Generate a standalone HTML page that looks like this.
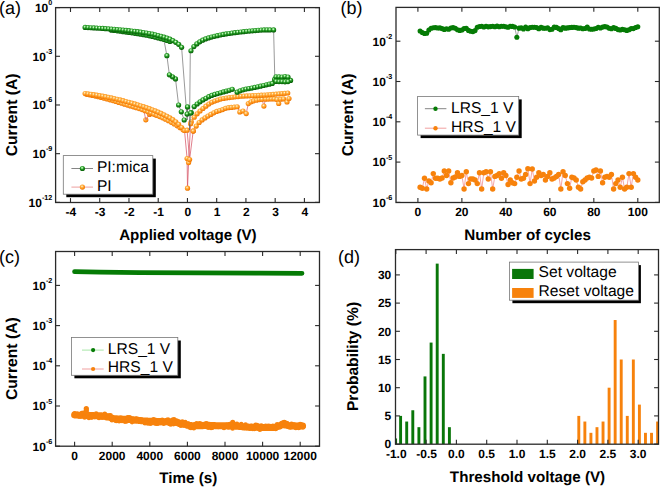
<!DOCTYPE html><html><head><meta charset="utf-8"><style>html,body{margin:0;padding:0;background:#fff;overflow:hidden}svg{display:block;text-rendering:geometricPrecision}</style></head><body>
<svg width="660" height="487" viewBox="0 0 660 487" font-family="'Liberation Sans', sans-serif" fill="#000">
<defs>
<radialGradient id="gG" cx="0.44" cy="0.36" r="0.64"><stop offset="0" stop-color="#eaffe6"/><stop offset="0.22" stop-color="#8ee08a"/><stop offset="0.45" stop-color="#2a9e2a"/><stop offset="0.8" stop-color="#0b720b"/><stop offset="1" stop-color="#065806"/></radialGradient>
<radialGradient id="gO" cx="0.42" cy="0.36" r="0.66"><stop offset="0" stop-color="#fff6d8"/><stop offset="0.35" stop-color="#ffb448"/><stop offset="0.72" stop-color="#fd8a10"/><stop offset="1" stop-color="#e57000"/></radialGradient>
</defs>
<rect width="660" height="487" fill="#fff"/>
<clipPath id="ca"><rect x="55.6" y="7.6" width="263.79999999999995" height="194.9"/></clipPath>
<g clip-path="url(#ca)">
<polyline points="85.11,93.48 88.03,93.86 90.96,94.27 93.88,94.71 96.81,95.17 99.73,95.65 102.65,96.17 105.58,96.72 108.50,97.29 111.43,97.90 114.35,98.55 117.27,99.24 120.20,99.96 123.12,100.71 126.05,101.48 128.97,102.27 131.89,103.10 134.82,103.96 137.74,104.84 140.67,105.75 143.59,106.69 146.51,107.67 149.44,108.69 152.36,109.77 155.29,110.91 158.21,112.13 161.13,113.43 164.06,114.83 166.98,116.32 169.91,117.91 172.83,119.69 175.75,121.78 178.68,124.40 181.60,127.48 184.50,130.50 187.10,158.50 187.50,188.20 188.60,162.60 190.60,123.70 191.25,121.84 194.18,117.26 197.10,113.79 200.02,111.02 202.95,108.50 205.87,106.22 208.80,104.01 211.72,102.25 214.64,101.05 217.57,100.03 220.49,99.12 223.42,98.48 226.34,98.00 229.26,97.59 232.19,97.23 235.11,96.87 238.04,96.54 240.96,96.25 243.88,96.05 246.81,95.90 249.73,95.78 252.66,95.65 255.58,95.49 258.50,95.33 261.43,95.16 264.35,94.98 267.28,94.79 270.20,94.59 273.12,94.36 276.05,94.12 278.97,93.87 281.90,93.59 284.82,93.31 287.74,93.01" fill="none" stroke="#d65466" stroke-width="0.75"/>
<polyline points="86.57,94.29 89.50,94.83 92.42,95.41 95.34,96.03 98.27,96.69 101.19,97.41 104.12,98.18 107.04,98.98 109.96,99.79 112.89,100.62 115.81,101.49 118.74,102.38 121.66,103.27 124.58,104.17 127.51,105.06 130.43,105.93 133.36,106.81 136.28,107.70 139.20,108.62 142.13,109.59 145.05,110.63 147.98,111.74 150.90,112.91 153.82,114.11 156.75,115.33 159.67,116.57 162.60,117.87 165.52,119.25 168.44,120.73 171.37,122.30 174.29,123.98 177.22,125.78 180.14,127.74 183.06,129.83 187.10,130.20 189.60,159.50 193.20,131.10" fill="none" stroke="#d65466" stroke-width="0.75"/>
<polyline points="193.30,130.92 196.22,126.04 199.15,122.50 202.07,119.90 204.99,117.88 207.92,116.05 210.84,114.40 213.77,112.79 216.69,111.43 219.61,110.55 222.54,109.62 225.46,108.28 228.39,107.64 231.31,107.40 234.23,107.10 237.16,106.77 239.80,112.00 243.00,111.00 246.20,113.60 248.30,103.60 251.00,101.80 253.60,100.90 256.50,100.20 259.40,99.60 262.00,99.30 263.90,106.10 265.50,99.20 268.40,99.10 271.30,99.00 274.20,99.00 277.00,99.50 278.70,103.50 280.50,99.20 283.50,98.90 287.00,102.00 289.00,98.60" fill="none" stroke="#d65466" stroke-width="0.7"/>
<circle cx="145.80" cy="119.80" r="2.6" fill="url(#gO)"/>
<circle cx="149.50" cy="114.50" r="2.6" fill="url(#gO)"/>
<circle cx="152.50" cy="113.60" r="2.6" fill="url(#gO)"/>
<circle cx="155.50" cy="114.80" r="2.6" fill="url(#gO)"/>
<polyline points="143.30,108.00 145.80,119.80 149.50,114.50" fill="none" stroke="#d65466" stroke-width="0.7"/>
<circle cx="86.57" cy="94.29" r="2.6" fill="url(#gO)"/>
<circle cx="89.50" cy="94.83" r="2.6" fill="url(#gO)"/>
<circle cx="92.42" cy="95.41" r="2.6" fill="url(#gO)"/>
<circle cx="95.34" cy="96.03" r="2.6" fill="url(#gO)"/>
<circle cx="98.27" cy="96.69" r="2.6" fill="url(#gO)"/>
<circle cx="101.19" cy="97.41" r="2.6" fill="url(#gO)"/>
<circle cx="104.12" cy="98.18" r="2.6" fill="url(#gO)"/>
<circle cx="107.04" cy="98.98" r="2.6" fill="url(#gO)"/>
<circle cx="109.96" cy="99.79" r="2.6" fill="url(#gO)"/>
<circle cx="112.89" cy="100.62" r="2.6" fill="url(#gO)"/>
<circle cx="115.81" cy="101.49" r="2.6" fill="url(#gO)"/>
<circle cx="118.74" cy="102.38" r="2.6" fill="url(#gO)"/>
<circle cx="121.66" cy="103.27" r="2.6" fill="url(#gO)"/>
<circle cx="124.58" cy="104.17" r="2.6" fill="url(#gO)"/>
<circle cx="127.51" cy="105.06" r="2.6" fill="url(#gO)"/>
<circle cx="130.43" cy="105.93" r="2.6" fill="url(#gO)"/>
<circle cx="133.36" cy="106.81" r="2.6" fill="url(#gO)"/>
<circle cx="136.28" cy="107.70" r="2.6" fill="url(#gO)"/>
<circle cx="139.20" cy="108.62" r="2.6" fill="url(#gO)"/>
<circle cx="142.13" cy="109.59" r="2.6" fill="url(#gO)"/>
<circle cx="145.05" cy="110.63" r="2.6" fill="url(#gO)"/>
<circle cx="147.98" cy="111.74" r="2.6" fill="url(#gO)"/>
<circle cx="150.90" cy="112.91" r="2.6" fill="url(#gO)"/>
<circle cx="153.82" cy="114.11" r="2.6" fill="url(#gO)"/>
<circle cx="156.75" cy="115.33" r="2.6" fill="url(#gO)"/>
<circle cx="159.67" cy="116.57" r="2.6" fill="url(#gO)"/>
<circle cx="162.60" cy="117.87" r="2.6" fill="url(#gO)"/>
<circle cx="165.52" cy="119.25" r="2.6" fill="url(#gO)"/>
<circle cx="168.44" cy="120.73" r="2.6" fill="url(#gO)"/>
<circle cx="171.37" cy="122.30" r="2.6" fill="url(#gO)"/>
<circle cx="174.29" cy="123.98" r="2.6" fill="url(#gO)"/>
<circle cx="177.22" cy="125.78" r="2.6" fill="url(#gO)"/>
<circle cx="180.14" cy="127.74" r="2.6" fill="url(#gO)"/>
<circle cx="183.06" cy="129.83" r="2.6" fill="url(#gO)"/>
<circle cx="85.11" cy="93.48" r="2.6" fill="url(#gO)"/>
<circle cx="88.03" cy="93.86" r="2.6" fill="url(#gO)"/>
<circle cx="90.96" cy="94.27" r="2.6" fill="url(#gO)"/>
<circle cx="93.88" cy="94.71" r="2.6" fill="url(#gO)"/>
<circle cx="96.81" cy="95.17" r="2.6" fill="url(#gO)"/>
<circle cx="99.73" cy="95.65" r="2.6" fill="url(#gO)"/>
<circle cx="102.65" cy="96.17" r="2.6" fill="url(#gO)"/>
<circle cx="105.58" cy="96.72" r="2.6" fill="url(#gO)"/>
<circle cx="108.50" cy="97.29" r="2.6" fill="url(#gO)"/>
<circle cx="111.43" cy="97.90" r="2.6" fill="url(#gO)"/>
<circle cx="114.35" cy="98.55" r="2.6" fill="url(#gO)"/>
<circle cx="117.27" cy="99.24" r="2.6" fill="url(#gO)"/>
<circle cx="120.20" cy="99.96" r="2.6" fill="url(#gO)"/>
<circle cx="123.12" cy="100.71" r="2.6" fill="url(#gO)"/>
<circle cx="126.05" cy="101.48" r="2.6" fill="url(#gO)"/>
<circle cx="128.97" cy="102.27" r="2.6" fill="url(#gO)"/>
<circle cx="131.89" cy="103.10" r="2.6" fill="url(#gO)"/>
<circle cx="134.82" cy="103.96" r="2.6" fill="url(#gO)"/>
<circle cx="137.74" cy="104.84" r="2.6" fill="url(#gO)"/>
<circle cx="140.67" cy="105.75" r="2.6" fill="url(#gO)"/>
<circle cx="143.59" cy="106.69" r="2.6" fill="url(#gO)"/>
<circle cx="146.51" cy="107.67" r="2.6" fill="url(#gO)"/>
<circle cx="149.44" cy="108.69" r="2.6" fill="url(#gO)"/>
<circle cx="152.36" cy="109.77" r="2.6" fill="url(#gO)"/>
<circle cx="155.29" cy="110.91" r="2.6" fill="url(#gO)"/>
<circle cx="158.21" cy="112.13" r="2.6" fill="url(#gO)"/>
<circle cx="161.13" cy="113.43" r="2.6" fill="url(#gO)"/>
<circle cx="164.06" cy="114.83" r="2.6" fill="url(#gO)"/>
<circle cx="166.98" cy="116.32" r="2.6" fill="url(#gO)"/>
<circle cx="169.91" cy="117.91" r="2.6" fill="url(#gO)"/>
<circle cx="172.83" cy="119.69" r="2.6" fill="url(#gO)"/>
<circle cx="175.75" cy="121.78" r="2.6" fill="url(#gO)"/>
<circle cx="178.68" cy="124.40" r="2.6" fill="url(#gO)"/>
<circle cx="181.60" cy="127.48" r="2.6" fill="url(#gO)"/>
<circle cx="193.30" cy="130.92" r="2.6" fill="url(#gO)"/>
<circle cx="196.22" cy="126.04" r="2.6" fill="url(#gO)"/>
<circle cx="199.15" cy="122.50" r="2.6" fill="url(#gO)"/>
<circle cx="202.07" cy="119.90" r="2.6" fill="url(#gO)"/>
<circle cx="204.99" cy="117.88" r="2.6" fill="url(#gO)"/>
<circle cx="207.92" cy="116.05" r="2.6" fill="url(#gO)"/>
<circle cx="210.84" cy="114.40" r="2.6" fill="url(#gO)"/>
<circle cx="213.77" cy="112.79" r="2.6" fill="url(#gO)"/>
<circle cx="216.69" cy="111.43" r="2.6" fill="url(#gO)"/>
<circle cx="219.61" cy="110.55" r="2.6" fill="url(#gO)"/>
<circle cx="222.54" cy="109.62" r="2.6" fill="url(#gO)"/>
<circle cx="225.46" cy="108.28" r="2.6" fill="url(#gO)"/>
<circle cx="228.39" cy="107.64" r="2.6" fill="url(#gO)"/>
<circle cx="231.31" cy="107.40" r="2.6" fill="url(#gO)"/>
<circle cx="234.23" cy="107.10" r="2.6" fill="url(#gO)"/>
<circle cx="237.16" cy="106.77" r="2.6" fill="url(#gO)"/>
<circle cx="239.80" cy="112.00" r="2.6" fill="url(#gO)"/>
<circle cx="243.00" cy="111.00" r="2.6" fill="url(#gO)"/>
<circle cx="246.20" cy="113.60" r="2.6" fill="url(#gO)"/>
<circle cx="248.30" cy="103.60" r="2.6" fill="url(#gO)"/>
<circle cx="251.00" cy="101.80" r="2.6" fill="url(#gO)"/>
<circle cx="253.60" cy="100.90" r="2.6" fill="url(#gO)"/>
<circle cx="256.50" cy="100.20" r="2.6" fill="url(#gO)"/>
<circle cx="259.40" cy="99.60" r="2.6" fill="url(#gO)"/>
<circle cx="262.00" cy="99.30" r="2.6" fill="url(#gO)"/>
<circle cx="263.90" cy="106.10" r="2.6" fill="url(#gO)"/>
<circle cx="265.50" cy="99.20" r="2.6" fill="url(#gO)"/>
<circle cx="268.40" cy="99.10" r="2.6" fill="url(#gO)"/>
<circle cx="271.30" cy="99.00" r="2.6" fill="url(#gO)"/>
<circle cx="274.20" cy="99.00" r="2.6" fill="url(#gO)"/>
<circle cx="277.00" cy="99.50" r="2.6" fill="url(#gO)"/>
<circle cx="278.70" cy="103.50" r="2.6" fill="url(#gO)"/>
<circle cx="280.50" cy="99.20" r="2.6" fill="url(#gO)"/>
<circle cx="283.50" cy="98.90" r="2.6" fill="url(#gO)"/>
<circle cx="287.00" cy="102.00" r="2.6" fill="url(#gO)"/>
<circle cx="289.00" cy="98.60" r="2.6" fill="url(#gO)"/>
<circle cx="191.25" cy="121.84" r="2.6" fill="url(#gO)"/>
<circle cx="194.18" cy="117.26" r="2.6" fill="url(#gO)"/>
<circle cx="197.10" cy="113.79" r="2.6" fill="url(#gO)"/>
<circle cx="200.02" cy="111.02" r="2.6" fill="url(#gO)"/>
<circle cx="202.95" cy="108.50" r="2.6" fill="url(#gO)"/>
<circle cx="205.87" cy="106.22" r="2.6" fill="url(#gO)"/>
<circle cx="208.80" cy="104.01" r="2.6" fill="url(#gO)"/>
<circle cx="211.72" cy="102.25" r="2.6" fill="url(#gO)"/>
<circle cx="214.64" cy="101.05" r="2.6" fill="url(#gO)"/>
<circle cx="217.57" cy="100.03" r="2.6" fill="url(#gO)"/>
<circle cx="220.49" cy="99.12" r="2.6" fill="url(#gO)"/>
<circle cx="223.42" cy="98.48" r="2.6" fill="url(#gO)"/>
<circle cx="226.34" cy="98.00" r="2.6" fill="url(#gO)"/>
<circle cx="229.26" cy="97.59" r="2.6" fill="url(#gO)"/>
<circle cx="232.19" cy="97.23" r="2.6" fill="url(#gO)"/>
<circle cx="235.11" cy="96.87" r="2.6" fill="url(#gO)"/>
<circle cx="238.04" cy="96.54" r="2.6" fill="url(#gO)"/>
<circle cx="240.96" cy="96.25" r="2.6" fill="url(#gO)"/>
<circle cx="243.88" cy="96.05" r="2.6" fill="url(#gO)"/>
<circle cx="246.81" cy="95.90" r="2.6" fill="url(#gO)"/>
<circle cx="249.73" cy="95.78" r="2.6" fill="url(#gO)"/>
<circle cx="252.66" cy="95.65" r="2.6" fill="url(#gO)"/>
<circle cx="255.58" cy="95.49" r="2.6" fill="url(#gO)"/>
<circle cx="258.50" cy="95.33" r="2.6" fill="url(#gO)"/>
<circle cx="261.43" cy="95.16" r="2.6" fill="url(#gO)"/>
<circle cx="264.35" cy="94.98" r="2.6" fill="url(#gO)"/>
<circle cx="267.28" cy="94.79" r="2.6" fill="url(#gO)"/>
<circle cx="270.20" cy="94.59" r="2.6" fill="url(#gO)"/>
<circle cx="273.12" cy="94.36" r="2.6" fill="url(#gO)"/>
<circle cx="276.05" cy="94.12" r="2.6" fill="url(#gO)"/>
<circle cx="278.97" cy="93.87" r="2.6" fill="url(#gO)"/>
<circle cx="281.90" cy="93.59" r="2.6" fill="url(#gO)"/>
<circle cx="284.82" cy="93.31" r="2.6" fill="url(#gO)"/>
<circle cx="287.74" cy="93.01" r="2.6" fill="url(#gO)"/>
<circle cx="184.50" cy="130.50" r="2.6" fill="url(#gO)"/>
<circle cx="187.10" cy="130.20" r="2.6" fill="url(#gO)"/>
<circle cx="187.10" cy="158.50" r="2.6" fill="url(#gO)"/>
<circle cx="187.50" cy="188.20" r="2.6" fill="url(#gO)"/>
<circle cx="188.60" cy="162.60" r="2.6" fill="url(#gO)"/>
<circle cx="189.60" cy="159.50" r="2.6" fill="url(#gO)"/>
<circle cx="190.60" cy="123.70" r="2.6" fill="url(#gO)"/>
<circle cx="193.20" cy="131.10" r="2.6" fill="url(#gO)"/>
<polyline points="184.20,120.00 181.30,111.80 178.60,105.00 175.50,78.90 172.50,76.80 169.40,74.80 166.90,55.70 164.20,41.30" fill="none" stroke="#555" stroke-width="0.6"/>
<polyline points="85.11,27.44 88.03,27.59 90.96,27.75 93.88,27.92 96.81,28.09 99.73,28.27 102.65,28.46 105.58,28.66 108.50,28.86 111.43,29.09 114.35,29.32 117.27,29.57 120.20,29.84 123.12,30.11 126.05,30.41 128.97,30.71 131.89,31.02 134.82,31.36 137.74,31.72 140.67,32.11 143.59,32.53 146.51,32.99 149.44,33.50 152.36,34.08 155.29,34.75 158.21,35.52 161.13,36.36 164.06,37.22 166.98,38.11 169.91,39.16 172.83,40.58 175.75,42.34 178.68,44.37 181.60,47.28 187.20,120.00 187.50,107.00 187.20,114.20 190.60,113.00 189.50,130.00 190.30,51.60 190.96,50.76 193.88,46.61 196.81,43.89 199.73,41.87 202.65,40.22 205.58,38.96 208.50,37.94 211.43,37.06 214.35,36.30 217.27,35.63 220.20,35.02 223.12,34.46 226.05,33.96 228.97,33.50 231.89,33.08 234.82,32.69 237.74,32.32 240.67,31.98 243.59,31.67 246.51,31.37 249.44,31.10 252.36,30.84 255.29,30.56 258.21,30.29 261.13,30.06 264.06,29.92 266.98,29.90 269.91,29.90 273.60,29.90 274.80,78.20 290.00,80.00" fill="none" stroke="#555" stroke-width="0.6"/>
<polyline points="191.25,112.63 194.18,106.57 197.10,104.01 200.02,101.79 202.95,99.95 205.87,98.32 208.80,96.72 211.72,95.40 214.64,94.42 217.57,93.59 220.49,92.78 223.42,91.93 226.34,91.13 229.26,90.28 232.19,89.28 237.16,92.18 240.08,90.83 243.01,89.80 245.93,89.11 248.85,88.56 251.78,88.05 254.70,87.47 257.63,86.84 260.55,86.19 263.47,85.52 266.40,84.84 269.32,84.15 272.25,83.43" fill="none" stroke="#555" stroke-width="0.6"/>
<circle cx="111.43" cy="30.13" r="2.6" fill="url(#gG)"/>
<circle cx="114.35" cy="30.49" r="2.6" fill="url(#gG)"/>
<circle cx="117.27" cy="30.86" r="2.6" fill="url(#gG)"/>
<circle cx="120.20" cy="31.25" r="2.6" fill="url(#gG)"/>
<circle cx="123.12" cy="31.64" r="2.6" fill="url(#gG)"/>
<circle cx="126.05" cy="32.04" r="2.6" fill="url(#gG)"/>
<circle cx="128.97" cy="32.45" r="2.6" fill="url(#gG)"/>
<circle cx="131.89" cy="32.86" r="2.6" fill="url(#gG)"/>
<circle cx="134.82" cy="33.29" r="2.6" fill="url(#gG)"/>
<circle cx="137.74" cy="33.73" r="2.6" fill="url(#gG)"/>
<circle cx="140.67" cy="34.21" r="2.6" fill="url(#gG)"/>
<circle cx="143.59" cy="34.72" r="2.6" fill="url(#gG)"/>
<circle cx="146.51" cy="35.27" r="2.6" fill="url(#gG)"/>
<circle cx="149.44" cy="35.85" r="2.6" fill="url(#gG)"/>
<circle cx="152.36" cy="36.48" r="2.6" fill="url(#gG)"/>
<circle cx="155.29" cy="37.16" r="2.6" fill="url(#gG)"/>
<circle cx="158.21" cy="37.89" r="2.6" fill="url(#gG)"/>
<circle cx="161.13" cy="38.68" r="2.6" fill="url(#gG)"/>
<circle cx="164.06" cy="39.52" r="2.6" fill="url(#gG)"/>
<circle cx="166.98" cy="40.46" r="2.6" fill="url(#gG)"/>
<circle cx="169.91" cy="41.47" r="2.6" fill="url(#gG)"/>
<circle cx="85.11" cy="27.44" r="2.6" fill="url(#gG)"/>
<circle cx="88.03" cy="27.59" r="2.6" fill="url(#gG)"/>
<circle cx="90.96" cy="27.75" r="2.6" fill="url(#gG)"/>
<circle cx="93.88" cy="27.92" r="2.6" fill="url(#gG)"/>
<circle cx="96.81" cy="28.09" r="2.6" fill="url(#gG)"/>
<circle cx="99.73" cy="28.27" r="2.6" fill="url(#gG)"/>
<circle cx="102.65" cy="28.46" r="2.6" fill="url(#gG)"/>
<circle cx="105.58" cy="28.66" r="2.6" fill="url(#gG)"/>
<circle cx="108.50" cy="28.86" r="2.6" fill="url(#gG)"/>
<circle cx="111.43" cy="29.09" r="2.6" fill="url(#gG)"/>
<circle cx="114.35" cy="29.32" r="2.6" fill="url(#gG)"/>
<circle cx="117.27" cy="29.57" r="2.6" fill="url(#gG)"/>
<circle cx="120.20" cy="29.84" r="2.6" fill="url(#gG)"/>
<circle cx="123.12" cy="30.11" r="2.6" fill="url(#gG)"/>
<circle cx="126.05" cy="30.41" r="2.6" fill="url(#gG)"/>
<circle cx="128.97" cy="30.71" r="2.6" fill="url(#gG)"/>
<circle cx="131.89" cy="31.02" r="2.6" fill="url(#gG)"/>
<circle cx="134.82" cy="31.36" r="2.6" fill="url(#gG)"/>
<circle cx="137.74" cy="31.72" r="2.6" fill="url(#gG)"/>
<circle cx="140.67" cy="32.11" r="2.6" fill="url(#gG)"/>
<circle cx="143.59" cy="32.53" r="2.6" fill="url(#gG)"/>
<circle cx="146.51" cy="32.99" r="2.6" fill="url(#gG)"/>
<circle cx="149.44" cy="33.50" r="2.6" fill="url(#gG)"/>
<circle cx="152.36" cy="34.08" r="2.6" fill="url(#gG)"/>
<circle cx="155.29" cy="34.75" r="2.6" fill="url(#gG)"/>
<circle cx="158.21" cy="35.52" r="2.6" fill="url(#gG)"/>
<circle cx="161.13" cy="36.36" r="2.6" fill="url(#gG)"/>
<circle cx="164.06" cy="37.22" r="2.6" fill="url(#gG)"/>
<circle cx="166.98" cy="38.11" r="2.6" fill="url(#gG)"/>
<circle cx="169.91" cy="39.16" r="2.6" fill="url(#gG)"/>
<circle cx="172.83" cy="40.58" r="2.6" fill="url(#gG)"/>
<circle cx="175.75" cy="42.34" r="2.6" fill="url(#gG)"/>
<circle cx="178.68" cy="44.37" r="2.6" fill="url(#gG)"/>
<circle cx="181.60" cy="47.28" r="2.6" fill="url(#gG)"/>
<circle cx="190.96" cy="50.76" r="2.6" fill="url(#gG)"/>
<circle cx="193.88" cy="46.61" r="2.6" fill="url(#gG)"/>
<circle cx="196.81" cy="43.89" r="2.6" fill="url(#gG)"/>
<circle cx="199.73" cy="41.87" r="2.6" fill="url(#gG)"/>
<circle cx="202.65" cy="40.22" r="2.6" fill="url(#gG)"/>
<circle cx="205.58" cy="38.96" r="2.6" fill="url(#gG)"/>
<circle cx="208.50" cy="37.94" r="2.6" fill="url(#gG)"/>
<circle cx="211.43" cy="37.06" r="2.6" fill="url(#gG)"/>
<circle cx="214.35" cy="36.30" r="2.6" fill="url(#gG)"/>
<circle cx="217.27" cy="35.63" r="2.6" fill="url(#gG)"/>
<circle cx="220.20" cy="35.02" r="2.6" fill="url(#gG)"/>
<circle cx="223.12" cy="34.46" r="2.6" fill="url(#gG)"/>
<circle cx="226.05" cy="33.96" r="2.6" fill="url(#gG)"/>
<circle cx="228.97" cy="33.50" r="2.6" fill="url(#gG)"/>
<circle cx="231.89" cy="33.08" r="2.6" fill="url(#gG)"/>
<circle cx="234.82" cy="32.69" r="2.6" fill="url(#gG)"/>
<circle cx="237.74" cy="32.32" r="2.6" fill="url(#gG)"/>
<circle cx="240.67" cy="31.98" r="2.6" fill="url(#gG)"/>
<circle cx="243.59" cy="31.67" r="2.6" fill="url(#gG)"/>
<circle cx="246.51" cy="31.37" r="2.6" fill="url(#gG)"/>
<circle cx="249.44" cy="31.10" r="2.6" fill="url(#gG)"/>
<circle cx="252.36" cy="30.84" r="2.6" fill="url(#gG)"/>
<circle cx="255.29" cy="30.56" r="2.6" fill="url(#gG)"/>
<circle cx="258.21" cy="30.29" r="2.6" fill="url(#gG)"/>
<circle cx="261.13" cy="30.06" r="2.6" fill="url(#gG)"/>
<circle cx="264.06" cy="29.92" r="2.6" fill="url(#gG)"/>
<circle cx="266.98" cy="29.90" r="2.6" fill="url(#gG)"/>
<circle cx="269.91" cy="29.90" r="2.6" fill="url(#gG)"/>
<circle cx="273.60" cy="29.90" r="2.6" fill="url(#gG)"/>
<circle cx="184.20" cy="120.00" r="2.6" fill="url(#gG)"/>
<circle cx="181.30" cy="111.80" r="2.6" fill="url(#gG)"/>
<circle cx="178.60" cy="105.00" r="2.6" fill="url(#gG)"/>
<circle cx="175.50" cy="78.90" r="2.6" fill="url(#gG)"/>
<circle cx="172.50" cy="76.80" r="2.6" fill="url(#gG)"/>
<circle cx="169.40" cy="74.80" r="2.6" fill="url(#gG)"/>
<circle cx="166.90" cy="55.70" r="2.6" fill="url(#gG)"/>
<circle cx="191.25" cy="112.63" r="2.6" fill="url(#gG)"/>
<circle cx="194.18" cy="106.57" r="2.6" fill="url(#gG)"/>
<circle cx="197.10" cy="104.01" r="2.6" fill="url(#gG)"/>
<circle cx="200.02" cy="101.79" r="2.6" fill="url(#gG)"/>
<circle cx="202.95" cy="99.95" r="2.6" fill="url(#gG)"/>
<circle cx="205.87" cy="98.32" r="2.6" fill="url(#gG)"/>
<circle cx="208.80" cy="96.72" r="2.6" fill="url(#gG)"/>
<circle cx="211.72" cy="95.40" r="2.6" fill="url(#gG)"/>
<circle cx="214.64" cy="94.42" r="2.6" fill="url(#gG)"/>
<circle cx="217.57" cy="93.59" r="2.6" fill="url(#gG)"/>
<circle cx="220.49" cy="92.78" r="2.6" fill="url(#gG)"/>
<circle cx="223.42" cy="91.93" r="2.6" fill="url(#gG)"/>
<circle cx="226.34" cy="91.13" r="2.6" fill="url(#gG)"/>
<circle cx="229.26" cy="90.28" r="2.6" fill="url(#gG)"/>
<circle cx="232.19" cy="89.28" r="2.6" fill="url(#gG)"/>
<circle cx="237.16" cy="92.18" r="2.6" fill="url(#gG)"/>
<circle cx="240.08" cy="90.83" r="2.6" fill="url(#gG)"/>
<circle cx="243.01" cy="89.80" r="2.6" fill="url(#gG)"/>
<circle cx="245.93" cy="89.11" r="2.6" fill="url(#gG)"/>
<circle cx="248.85" cy="88.56" r="2.6" fill="url(#gG)"/>
<circle cx="251.78" cy="88.05" r="2.6" fill="url(#gG)"/>
<circle cx="254.70" cy="87.47" r="2.6" fill="url(#gG)"/>
<circle cx="257.63" cy="86.84" r="2.6" fill="url(#gG)"/>
<circle cx="260.55" cy="86.19" r="2.6" fill="url(#gG)"/>
<circle cx="263.47" cy="85.52" r="2.6" fill="url(#gG)"/>
<circle cx="266.40" cy="84.84" r="2.6" fill="url(#gG)"/>
<circle cx="269.32" cy="84.15" r="2.6" fill="url(#gG)"/>
<circle cx="272.25" cy="83.43" r="2.6" fill="url(#gG)"/>
<circle cx="274.60" cy="79.40" r="2.6" fill="url(#gG)"/>
<circle cx="277.50" cy="79.60" r="2.6" fill="url(#gG)"/>
<circle cx="280.40" cy="79.80" r="2.6" fill="url(#gG)"/>
<circle cx="283.30" cy="80.00" r="2.6" fill="url(#gG)"/>
<circle cx="286.20" cy="80.20" r="2.6" fill="url(#gG)"/>
<circle cx="289.10" cy="80.40" r="2.6" fill="url(#gG)"/>
<circle cx="290.60" cy="80.40" r="2.6" fill="url(#gG)"/>
<circle cx="276.00" cy="76.80" r="2.6" fill="url(#gG)"/>
<circle cx="279.00" cy="76.80" r="2.6" fill="url(#gG)"/>
<circle cx="282.00" cy="77.00" r="2.6" fill="url(#gG)"/>
<circle cx="285.00" cy="76.50" r="2.6" fill="url(#gG)"/>
<circle cx="288.00" cy="77.00" r="2.6" fill="url(#gG)"/>
<circle cx="276.00" cy="81.40" r="2.6" fill="url(#gG)"/>
<circle cx="279.00" cy="81.60" r="2.6" fill="url(#gG)"/>
<circle cx="282.00" cy="81.60" r="2.6" fill="url(#gG)"/>
<circle cx="285.00" cy="81.80" r="2.6" fill="url(#gG)"/>
<circle cx="288.00" cy="81.60" r="2.6" fill="url(#gG)"/>
<circle cx="187.50" cy="106.90" r="2.6" fill="url(#gG)"/>
<circle cx="187.10" cy="114.10" r="2.6" fill="url(#gG)"/>
<circle cx="190.60" cy="113.00" r="2.6" fill="url(#gG)"/>
</g>
<rect x="55.6" y="7.6" width="263.79999999999995" height="194.9" fill="none" stroke="#2a2a2a" stroke-width="1.3"/>
<line x1="70.49" y1="202.5" x2="70.49" y2="198.1" stroke="#2a2a2a" stroke-width="1.1"/>
<line x1="70.49" y1="7.6" x2="70.49" y2="12.0" stroke="#2a2a2a" stroke-width="1.1"/>
<text x="70.89" y="215.90" font-size="12" font-weight="bold" text-anchor="middle" >-4</text>
<line x1="99.73" y1="202.5" x2="99.73" y2="198.1" stroke="#2a2a2a" stroke-width="1.1"/>
<line x1="99.73" y1="7.6" x2="99.73" y2="12.0" stroke="#2a2a2a" stroke-width="1.1"/>
<text x="100.13" y="215.90" font-size="12" font-weight="bold" text-anchor="middle" >-3</text>
<line x1="128.97" y1="202.5" x2="128.97" y2="198.1" stroke="#2a2a2a" stroke-width="1.1"/>
<line x1="128.97" y1="7.6" x2="128.97" y2="12.0" stroke="#2a2a2a" stroke-width="1.1"/>
<text x="129.37" y="215.90" font-size="12" font-weight="bold" text-anchor="middle" >-2</text>
<line x1="158.21" y1="202.5" x2="158.21" y2="198.1" stroke="#2a2a2a" stroke-width="1.1"/>
<line x1="158.21" y1="7.6" x2="158.21" y2="12.0" stroke="#2a2a2a" stroke-width="1.1"/>
<text x="158.61" y="215.90" font-size="12" font-weight="bold" text-anchor="middle" >-1</text>
<line x1="187.45" y1="202.5" x2="187.45" y2="198.1" stroke="#2a2a2a" stroke-width="1.1"/>
<line x1="187.45" y1="7.6" x2="187.45" y2="12.0" stroke="#2a2a2a" stroke-width="1.1"/>
<text x="187.85" y="215.90" font-size="12" font-weight="bold" text-anchor="middle" >0</text>
<line x1="216.69" y1="202.5" x2="216.69" y2="198.1" stroke="#2a2a2a" stroke-width="1.1"/>
<line x1="216.69" y1="7.6" x2="216.69" y2="12.0" stroke="#2a2a2a" stroke-width="1.1"/>
<text x="217.09" y="215.90" font-size="12" font-weight="bold" text-anchor="middle" >1</text>
<line x1="245.93" y1="202.5" x2="245.93" y2="198.1" stroke="#2a2a2a" stroke-width="1.1"/>
<line x1="245.93" y1="7.6" x2="245.93" y2="12.0" stroke="#2a2a2a" stroke-width="1.1"/>
<text x="246.33" y="215.90" font-size="12" font-weight="bold" text-anchor="middle" >2</text>
<line x1="275.17" y1="202.5" x2="275.17" y2="198.1" stroke="#2a2a2a" stroke-width="1.1"/>
<line x1="275.17" y1="7.6" x2="275.17" y2="12.0" stroke="#2a2a2a" stroke-width="1.1"/>
<text x="275.57" y="215.90" font-size="12" font-weight="bold" text-anchor="middle" >3</text>
<line x1="304.41" y1="202.5" x2="304.41" y2="198.1" stroke="#2a2a2a" stroke-width="1.1"/>
<line x1="304.41" y1="7.6" x2="304.41" y2="12.0" stroke="#2a2a2a" stroke-width="1.1"/>
<text x="304.81" y="215.90" font-size="12" font-weight="bold" text-anchor="middle" >4</text>
<line x1="55.6" y1="7.60" x2="60.0" y2="7.60" stroke="#2a2a2a" stroke-width="1.1"/>
<line x1="319.4" y1="7.60" x2="315.0" y2="7.60" stroke="#2a2a2a" stroke-width="1.1"/>
<text x="52.30" y="11.90" font-size="12" font-weight="bold" text-anchor="end">10<tspan dy="-6.8" font-size="7.2">0</tspan></text>
<line x1="55.6" y1="56.29" x2="60.0" y2="56.29" stroke="#2a2a2a" stroke-width="1.1"/>
<line x1="319.4" y1="56.29" x2="315.0" y2="56.29" stroke="#2a2a2a" stroke-width="1.1"/>
<text x="52.30" y="60.59" font-size="12" font-weight="bold" text-anchor="end">10<tspan dy="-6.8" font-size="7.2">-3</tspan></text>
<line x1="55.6" y1="104.98" x2="60.0" y2="104.98" stroke="#2a2a2a" stroke-width="1.1"/>
<line x1="319.4" y1="104.98" x2="315.0" y2="104.98" stroke="#2a2a2a" stroke-width="1.1"/>
<text x="52.30" y="109.28" font-size="12" font-weight="bold" text-anchor="end">10<tspan dy="-6.8" font-size="7.2">-6</tspan></text>
<line x1="55.6" y1="153.67" x2="60.0" y2="153.67" stroke="#2a2a2a" stroke-width="1.1"/>
<line x1="319.4" y1="153.67" x2="315.0" y2="153.67" stroke="#2a2a2a" stroke-width="1.1"/>
<text x="52.30" y="157.97" font-size="12" font-weight="bold" text-anchor="end">10<tspan dy="-6.8" font-size="7.2">-9</tspan></text>
<line x1="55.6" y1="202.36" x2="60.0" y2="202.36" stroke="#2a2a2a" stroke-width="1.1"/>
<line x1="319.4" y1="202.36" x2="315.0" y2="202.36" stroke="#2a2a2a" stroke-width="1.1"/>
<text x="52.30" y="206.66" font-size="12" font-weight="bold" text-anchor="end">10<tspan dy="-6.8" font-size="7.2">-12</tspan></text>
<rect x="66.3" y="158.6" width="89.5" height="38.6" fill="#000"/>
<rect x="63.3" y="155.6" width="89.5" height="38.6" fill="#fff" stroke="#777" stroke-width="0.8"/>
<line x1="71.4" y1="168.5" x2="93" y2="168.5" stroke="#666" stroke-width="0.8"/>
<circle cx="82.40" cy="168.50" r="2.6" fill="url(#gG)"/>
<line x1="71.4" y1="187.1" x2="93" y2="187.1" stroke="#e88888" stroke-width="0.8"/>
<circle cx="82.40" cy="187.10" r="2.6" fill="url(#gO)"/>
<text x="96.90" y="171.70" font-size="15.6" font-weight="normal" text-anchor="start" >PI:mica</text>
<text x="96.90" y="190.90" font-size="15.6" font-weight="normal" text-anchor="start" >PI</text>
<text x="-1.00" y="14.20" font-size="18" font-weight="normal" text-anchor="start" >(a)</text>
<text x="0.00" y="0.00" font-size="15.7" font-weight="bold" text-anchor="middle" transform="translate(16.7,114.9) rotate(-90)">Current (A)</text>
<text x="187.90" y="239.50" font-size="15.2" font-weight="bold" text-anchor="middle" >Applied voltage (V)</text>
<clipPath id="cb"><rect x="396.0" y="7.4" width="263.29999999999995" height="195.1"/></clipPath>
<g clip-path="url(#cb)">
<polyline points="420.10,31.00 422.30,32.50 424.50,33.50 426.70,33.30 428.89,30.00 431.09,28.20 433.29,27.80 435.49,27.60 437.69,28.00 439.89,27.90 442.09,28.60 444.29,29.40 446.49,28.80 448.69,29.20 450.88,28.00 453.08,27.60 455.28,28.20 457.48,29.80 459.68,30.40 461.88,30.00 464.08,28.60 466.28,28.40 468.48,30.40 470.68,31.20 472.88,31.60 475.07,30.60 477.27,27.20 479.47,26.55 481.67,26.31 483.87,27.01 486.07,26.20 488.27,26.85 490.47,26.61 492.67,26.18 494.86,26.81 497.06,26.15 499.26,26.71 501.46,26.20 503.66,26.23 505.86,26.69 508.06,27.26 510.26,26.27 512.46,26.41 514.66,26.98 516.86,37.30 519.05,28.15 521.25,27.79 523.45,28.95 525.65,27.09 527.85,28.72 530.05,27.58 532.25,27.29 534.45,27.24 536.65,27.62 538.85,28.63 541.04,27.36 543.24,28.16 545.44,28.28 547.64,27.74 549.84,29.60 552.04,29.20 554.24,27.12 556.44,27.41 558.64,28.60 560.84,29.80 563.03,27.63 565.23,28.17 567.43,27.91 569.63,27.60 571.83,27.40 574.03,27.20 576.23,27.60 578.43,28.15 580.63,28.05 582.82,28.75 585.02,28.46 587.22,27.00 589.42,28.96 591.62,29.30 593.82,29.00 596.02,28.51 598.22,27.30 600.42,27.98 602.62,27.08 604.81,26.60 607.01,27.00 609.21,28.20 611.41,28.75 613.61,27.63 615.81,28.39 618.01,29.60 620.21,30.00 622.41,29.40 624.61,29.80 626.80,30.40 629.00,29.80 631.20,28.60 633.40,28.60 635.60,27.50 637.80,26.80" fill="none" stroke="#666" stroke-width="0.6"/>
<polyline points="420.10,187.30 422.30,188.20 424.50,178.20 426.70,189.00 428.89,180.90 431.09,182.70 433.29,173.60 435.49,178.20 437.69,178.20 439.89,179.00 442.09,178.00 444.29,171.00 446.49,175.50 448.69,171.00 450.88,182.70 453.08,178.00 455.28,177.00 457.48,172.70 459.68,176.40 461.88,175.50 464.08,189.00 466.28,171.80 468.48,183.60 470.68,179.00 472.88,179.00 475.07,180.00 477.27,183.60 479.47,172.70 481.67,189.00 483.87,172.70 486.07,171.80 488.27,179.00 490.47,171.80 492.67,189.00 494.86,176.40 497.06,175.50 499.26,173.60 501.46,178.20 503.66,172.70 505.86,175.50 508.06,184.50 510.26,180.00 512.46,182.70 514.66,183.60 516.86,177.30 519.05,171.00 521.25,179.00 523.45,178.20 525.65,174.50 527.85,168.70 530.05,183.60 532.25,169.00 534.45,181.00 536.65,177.30 538.85,172.70 541.04,175.50 543.24,174.50 545.44,180.00 547.64,176.40 549.84,172.70 552.04,179.00 554.24,178.00 556.44,176.40 558.64,174.50 560.84,189.00 563.03,171.80 565.23,175.50 567.43,183.60 569.63,188.20 571.83,177.30 574.03,178.00 576.23,180.00 578.43,187.30 580.63,189.00 582.82,181.80 585.02,180.00 587.22,178.00 589.42,177.30 591.62,178.00 593.82,171.00 596.02,170.00 598.22,176.40 600.42,171.00 602.62,182.70 604.81,177.30 607.01,176.40 609.21,177.30 611.41,174.50 613.61,189.00 615.81,183.60 618.01,180.00 620.21,187.30 622.41,177.30 624.61,189.00 626.80,187.30 629.00,173.60 631.20,187.30 633.40,173.60 635.60,177.30 637.80,180.00" fill="none" stroke="#f08080" stroke-width="0.7"/>
<circle cx="420.10" cy="31.00" r="2.55" fill="#057b05"/>
<circle cx="422.30" cy="32.50" r="2.55" fill="#057b05"/>
<circle cx="424.50" cy="33.50" r="2.55" fill="#057b05"/>
<circle cx="426.70" cy="33.30" r="2.55" fill="#057b05"/>
<circle cx="428.89" cy="30.00" r="2.55" fill="#057b05"/>
<circle cx="431.09" cy="28.20" r="2.55" fill="#057b05"/>
<circle cx="433.29" cy="27.80" r="2.55" fill="#057b05"/>
<circle cx="435.49" cy="27.60" r="2.55" fill="#057b05"/>
<circle cx="437.69" cy="28.00" r="2.55" fill="#057b05"/>
<circle cx="439.89" cy="27.90" r="2.55" fill="#057b05"/>
<circle cx="442.09" cy="28.60" r="2.55" fill="#057b05"/>
<circle cx="444.29" cy="29.40" r="2.55" fill="#057b05"/>
<circle cx="446.49" cy="28.80" r="2.55" fill="#057b05"/>
<circle cx="448.69" cy="29.20" r="2.55" fill="#057b05"/>
<circle cx="450.88" cy="28.00" r="2.55" fill="#057b05"/>
<circle cx="453.08" cy="27.60" r="2.55" fill="#057b05"/>
<circle cx="455.28" cy="28.20" r="2.55" fill="#057b05"/>
<circle cx="457.48" cy="29.80" r="2.55" fill="#057b05"/>
<circle cx="459.68" cy="30.40" r="2.55" fill="#057b05"/>
<circle cx="461.88" cy="30.00" r="2.55" fill="#057b05"/>
<circle cx="464.08" cy="28.60" r="2.55" fill="#057b05"/>
<circle cx="466.28" cy="28.40" r="2.55" fill="#057b05"/>
<circle cx="468.48" cy="30.40" r="2.55" fill="#057b05"/>
<circle cx="470.68" cy="31.20" r="2.55" fill="#057b05"/>
<circle cx="472.88" cy="31.60" r="2.55" fill="#057b05"/>
<circle cx="475.07" cy="30.60" r="2.55" fill="#057b05"/>
<circle cx="477.27" cy="27.20" r="2.55" fill="#057b05"/>
<circle cx="479.47" cy="26.55" r="2.55" fill="#057b05"/>
<circle cx="481.67" cy="26.31" r="2.55" fill="#057b05"/>
<circle cx="483.87" cy="27.01" r="2.55" fill="#057b05"/>
<circle cx="486.07" cy="26.20" r="2.55" fill="#057b05"/>
<circle cx="488.27" cy="26.85" r="2.55" fill="#057b05"/>
<circle cx="490.47" cy="26.61" r="2.55" fill="#057b05"/>
<circle cx="492.67" cy="26.18" r="2.55" fill="#057b05"/>
<circle cx="494.86" cy="26.81" r="2.55" fill="#057b05"/>
<circle cx="497.06" cy="26.15" r="2.55" fill="#057b05"/>
<circle cx="499.26" cy="26.71" r="2.55" fill="#057b05"/>
<circle cx="501.46" cy="26.20" r="2.55" fill="#057b05"/>
<circle cx="503.66" cy="26.23" r="2.55" fill="#057b05"/>
<circle cx="505.86" cy="26.69" r="2.55" fill="#057b05"/>
<circle cx="508.06" cy="27.26" r="2.55" fill="#057b05"/>
<circle cx="510.26" cy="26.27" r="2.55" fill="#057b05"/>
<circle cx="512.46" cy="26.41" r="2.55" fill="#057b05"/>
<circle cx="514.66" cy="26.98" r="2.55" fill="#057b05"/>
<circle cx="516.86" cy="37.30" r="2.55" fill="#057b05"/>
<circle cx="519.05" cy="28.15" r="2.55" fill="#057b05"/>
<circle cx="521.25" cy="27.79" r="2.55" fill="#057b05"/>
<circle cx="523.45" cy="28.95" r="2.55" fill="#057b05"/>
<circle cx="525.65" cy="27.09" r="2.55" fill="#057b05"/>
<circle cx="527.85" cy="28.72" r="2.55" fill="#057b05"/>
<circle cx="530.05" cy="27.58" r="2.55" fill="#057b05"/>
<circle cx="532.25" cy="27.29" r="2.55" fill="#057b05"/>
<circle cx="534.45" cy="27.24" r="2.55" fill="#057b05"/>
<circle cx="536.65" cy="27.62" r="2.55" fill="#057b05"/>
<circle cx="538.85" cy="28.63" r="2.55" fill="#057b05"/>
<circle cx="541.04" cy="27.36" r="2.55" fill="#057b05"/>
<circle cx="543.24" cy="28.16" r="2.55" fill="#057b05"/>
<circle cx="545.44" cy="28.28" r="2.55" fill="#057b05"/>
<circle cx="547.64" cy="27.74" r="2.55" fill="#057b05"/>
<circle cx="549.84" cy="29.60" r="2.55" fill="#057b05"/>
<circle cx="552.04" cy="29.20" r="2.55" fill="#057b05"/>
<circle cx="554.24" cy="27.12" r="2.55" fill="#057b05"/>
<circle cx="556.44" cy="27.41" r="2.55" fill="#057b05"/>
<circle cx="558.64" cy="28.60" r="2.55" fill="#057b05"/>
<circle cx="560.84" cy="29.80" r="2.55" fill="#057b05"/>
<circle cx="563.03" cy="27.63" r="2.55" fill="#057b05"/>
<circle cx="565.23" cy="28.17" r="2.55" fill="#057b05"/>
<circle cx="567.43" cy="27.91" r="2.55" fill="#057b05"/>
<circle cx="569.63" cy="27.60" r="2.55" fill="#057b05"/>
<circle cx="571.83" cy="27.40" r="2.55" fill="#057b05"/>
<circle cx="574.03" cy="27.20" r="2.55" fill="#057b05"/>
<circle cx="576.23" cy="27.60" r="2.55" fill="#057b05"/>
<circle cx="578.43" cy="28.15" r="2.55" fill="#057b05"/>
<circle cx="580.63" cy="28.05" r="2.55" fill="#057b05"/>
<circle cx="582.82" cy="28.75" r="2.55" fill="#057b05"/>
<circle cx="585.02" cy="28.46" r="2.55" fill="#057b05"/>
<circle cx="587.22" cy="27.00" r="2.55" fill="#057b05"/>
<circle cx="589.42" cy="28.96" r="2.55" fill="#057b05"/>
<circle cx="591.62" cy="29.30" r="2.55" fill="#057b05"/>
<circle cx="593.82" cy="29.00" r="2.55" fill="#057b05"/>
<circle cx="596.02" cy="28.51" r="2.55" fill="#057b05"/>
<circle cx="598.22" cy="27.30" r="2.55" fill="#057b05"/>
<circle cx="600.42" cy="27.98" r="2.55" fill="#057b05"/>
<circle cx="602.62" cy="27.08" r="2.55" fill="#057b05"/>
<circle cx="604.81" cy="26.60" r="2.55" fill="#057b05"/>
<circle cx="607.01" cy="27.00" r="2.55" fill="#057b05"/>
<circle cx="609.21" cy="28.20" r="2.55" fill="#057b05"/>
<circle cx="611.41" cy="28.75" r="2.55" fill="#057b05"/>
<circle cx="613.61" cy="27.63" r="2.55" fill="#057b05"/>
<circle cx="615.81" cy="28.39" r="2.55" fill="#057b05"/>
<circle cx="618.01" cy="29.60" r="2.55" fill="#057b05"/>
<circle cx="620.21" cy="30.00" r="2.55" fill="#057b05"/>
<circle cx="622.41" cy="29.40" r="2.55" fill="#057b05"/>
<circle cx="624.61" cy="29.80" r="2.55" fill="#057b05"/>
<circle cx="626.80" cy="30.40" r="2.55" fill="#057b05"/>
<circle cx="629.00" cy="29.80" r="2.55" fill="#057b05"/>
<circle cx="631.20" cy="28.60" r="2.55" fill="#057b05"/>
<circle cx="633.40" cy="28.60" r="2.55" fill="#057b05"/>
<circle cx="635.60" cy="27.50" r="2.55" fill="#057b05"/>
<circle cx="637.80" cy="26.80" r="2.55" fill="#057b05"/>
<circle cx="420.10" cy="187.30" r="2.7" fill="#f7820c"/>
<circle cx="422.30" cy="188.20" r="2.7" fill="#f7820c"/>
<circle cx="424.50" cy="178.20" r="2.7" fill="#f7820c"/>
<circle cx="426.70" cy="189.00" r="2.7" fill="#f7820c"/>
<circle cx="428.89" cy="180.90" r="2.7" fill="#f7820c"/>
<circle cx="431.09" cy="182.70" r="2.7" fill="#f7820c"/>
<circle cx="433.29" cy="173.60" r="2.7" fill="#f7820c"/>
<circle cx="435.49" cy="178.20" r="2.7" fill="#f7820c"/>
<circle cx="437.69" cy="178.20" r="2.7" fill="#f7820c"/>
<circle cx="439.89" cy="179.00" r="2.7" fill="#f7820c"/>
<circle cx="442.09" cy="178.00" r="2.7" fill="#f7820c"/>
<circle cx="444.29" cy="171.00" r="2.7" fill="#f7820c"/>
<circle cx="446.49" cy="175.50" r="2.7" fill="#f7820c"/>
<circle cx="448.69" cy="171.00" r="2.7" fill="#f7820c"/>
<circle cx="450.88" cy="182.70" r="2.7" fill="#f7820c"/>
<circle cx="453.08" cy="178.00" r="2.7" fill="#f7820c"/>
<circle cx="455.28" cy="177.00" r="2.7" fill="#f7820c"/>
<circle cx="457.48" cy="172.70" r="2.7" fill="#f7820c"/>
<circle cx="459.68" cy="176.40" r="2.7" fill="#f7820c"/>
<circle cx="461.88" cy="175.50" r="2.7" fill="#f7820c"/>
<circle cx="464.08" cy="189.00" r="2.7" fill="#f7820c"/>
<circle cx="466.28" cy="171.80" r="2.7" fill="#f7820c"/>
<circle cx="468.48" cy="183.60" r="2.7" fill="#f7820c"/>
<circle cx="470.68" cy="179.00" r="2.7" fill="#f7820c"/>
<circle cx="472.88" cy="179.00" r="2.7" fill="#f7820c"/>
<circle cx="475.07" cy="180.00" r="2.7" fill="#f7820c"/>
<circle cx="477.27" cy="183.60" r="2.7" fill="#f7820c"/>
<circle cx="479.47" cy="172.70" r="2.7" fill="#f7820c"/>
<circle cx="481.67" cy="189.00" r="2.7" fill="#f7820c"/>
<circle cx="483.87" cy="172.70" r="2.7" fill="#f7820c"/>
<circle cx="486.07" cy="171.80" r="2.7" fill="#f7820c"/>
<circle cx="488.27" cy="179.00" r="2.7" fill="#f7820c"/>
<circle cx="490.47" cy="171.80" r="2.7" fill="#f7820c"/>
<circle cx="492.67" cy="189.00" r="2.7" fill="#f7820c"/>
<circle cx="494.86" cy="176.40" r="2.7" fill="#f7820c"/>
<circle cx="497.06" cy="175.50" r="2.7" fill="#f7820c"/>
<circle cx="499.26" cy="173.60" r="2.7" fill="#f7820c"/>
<circle cx="501.46" cy="178.20" r="2.7" fill="#f7820c"/>
<circle cx="503.66" cy="172.70" r="2.7" fill="#f7820c"/>
<circle cx="505.86" cy="175.50" r="2.7" fill="#f7820c"/>
<circle cx="508.06" cy="184.50" r="2.7" fill="#f7820c"/>
<circle cx="510.26" cy="180.00" r="2.7" fill="#f7820c"/>
<circle cx="512.46" cy="182.70" r="2.7" fill="#f7820c"/>
<circle cx="514.66" cy="183.60" r="2.7" fill="#f7820c"/>
<circle cx="516.86" cy="177.30" r="2.7" fill="#f7820c"/>
<circle cx="519.05" cy="171.00" r="2.7" fill="#f7820c"/>
<circle cx="521.25" cy="179.00" r="2.7" fill="#f7820c"/>
<circle cx="523.45" cy="178.20" r="2.7" fill="#f7820c"/>
<circle cx="525.65" cy="174.50" r="2.7" fill="#f7820c"/>
<circle cx="527.85" cy="168.70" r="2.7" fill="#f7820c"/>
<circle cx="530.05" cy="183.60" r="2.7" fill="#f7820c"/>
<circle cx="532.25" cy="169.00" r="2.7" fill="#f7820c"/>
<circle cx="534.45" cy="181.00" r="2.7" fill="#f7820c"/>
<circle cx="536.65" cy="177.30" r="2.7" fill="#f7820c"/>
<circle cx="538.85" cy="172.70" r="2.7" fill="#f7820c"/>
<circle cx="541.04" cy="175.50" r="2.7" fill="#f7820c"/>
<circle cx="543.24" cy="174.50" r="2.7" fill="#f7820c"/>
<circle cx="545.44" cy="180.00" r="2.7" fill="#f7820c"/>
<circle cx="547.64" cy="176.40" r="2.7" fill="#f7820c"/>
<circle cx="549.84" cy="172.70" r="2.7" fill="#f7820c"/>
<circle cx="552.04" cy="179.00" r="2.7" fill="#f7820c"/>
<circle cx="554.24" cy="178.00" r="2.7" fill="#f7820c"/>
<circle cx="556.44" cy="176.40" r="2.7" fill="#f7820c"/>
<circle cx="558.64" cy="174.50" r="2.7" fill="#f7820c"/>
<circle cx="560.84" cy="189.00" r="2.7" fill="#f7820c"/>
<circle cx="563.03" cy="171.80" r="2.7" fill="#f7820c"/>
<circle cx="565.23" cy="175.50" r="2.7" fill="#f7820c"/>
<circle cx="567.43" cy="183.60" r="2.7" fill="#f7820c"/>
<circle cx="569.63" cy="188.20" r="2.7" fill="#f7820c"/>
<circle cx="571.83" cy="177.30" r="2.7" fill="#f7820c"/>
<circle cx="574.03" cy="178.00" r="2.7" fill="#f7820c"/>
<circle cx="576.23" cy="180.00" r="2.7" fill="#f7820c"/>
<circle cx="578.43" cy="187.30" r="2.7" fill="#f7820c"/>
<circle cx="580.63" cy="189.00" r="2.7" fill="#f7820c"/>
<circle cx="582.82" cy="181.80" r="2.7" fill="#f7820c"/>
<circle cx="585.02" cy="180.00" r="2.7" fill="#f7820c"/>
<circle cx="587.22" cy="178.00" r="2.7" fill="#f7820c"/>
<circle cx="589.42" cy="177.30" r="2.7" fill="#f7820c"/>
<circle cx="591.62" cy="178.00" r="2.7" fill="#f7820c"/>
<circle cx="593.82" cy="171.00" r="2.7" fill="#f7820c"/>
<circle cx="596.02" cy="170.00" r="2.7" fill="#f7820c"/>
<circle cx="598.22" cy="176.40" r="2.7" fill="#f7820c"/>
<circle cx="600.42" cy="171.00" r="2.7" fill="#f7820c"/>
<circle cx="602.62" cy="182.70" r="2.7" fill="#f7820c"/>
<circle cx="604.81" cy="177.30" r="2.7" fill="#f7820c"/>
<circle cx="607.01" cy="176.40" r="2.7" fill="#f7820c"/>
<circle cx="609.21" cy="177.30" r="2.7" fill="#f7820c"/>
<circle cx="611.41" cy="174.50" r="2.7" fill="#f7820c"/>
<circle cx="613.61" cy="189.00" r="2.7" fill="#f7820c"/>
<circle cx="615.81" cy="183.60" r="2.7" fill="#f7820c"/>
<circle cx="618.01" cy="180.00" r="2.7" fill="#f7820c"/>
<circle cx="620.21" cy="187.30" r="2.7" fill="#f7820c"/>
<circle cx="622.41" cy="177.30" r="2.7" fill="#f7820c"/>
<circle cx="624.61" cy="189.00" r="2.7" fill="#f7820c"/>
<circle cx="626.80" cy="187.30" r="2.7" fill="#f7820c"/>
<circle cx="629.00" cy="173.60" r="2.7" fill="#f7820c"/>
<circle cx="631.20" cy="187.30" r="2.7" fill="#f7820c"/>
<circle cx="633.40" cy="173.60" r="2.7" fill="#f7820c"/>
<circle cx="635.60" cy="177.30" r="2.7" fill="#f7820c"/>
<circle cx="637.80" cy="180.00" r="2.7" fill="#f7820c"/>
</g>
<rect x="396.0" y="7.4" width="263.29999999999995" height="195.1" fill="none" stroke="#2a2a2a" stroke-width="1.3"/>
<line x1="417.90" y1="202.5" x2="417.90" y2="198.1" stroke="#2a2a2a" stroke-width="1.1"/>
<line x1="417.90" y1="7.4" x2="417.90" y2="11.8" stroke="#2a2a2a" stroke-width="1.1"/>
<text x="417.90" y="215.90" font-size="12" font-weight="bold" text-anchor="middle" >0</text>
<line x1="461.88" y1="202.5" x2="461.88" y2="198.1" stroke="#2a2a2a" stroke-width="1.1"/>
<line x1="461.88" y1="7.4" x2="461.88" y2="11.8" stroke="#2a2a2a" stroke-width="1.1"/>
<text x="461.88" y="215.90" font-size="12" font-weight="bold" text-anchor="middle" >20</text>
<line x1="505.86" y1="202.5" x2="505.86" y2="198.1" stroke="#2a2a2a" stroke-width="1.1"/>
<line x1="505.86" y1="7.4" x2="505.86" y2="11.8" stroke="#2a2a2a" stroke-width="1.1"/>
<text x="505.86" y="215.90" font-size="12" font-weight="bold" text-anchor="middle" >40</text>
<line x1="549.84" y1="202.5" x2="549.84" y2="198.1" stroke="#2a2a2a" stroke-width="1.1"/>
<line x1="549.84" y1="7.4" x2="549.84" y2="11.8" stroke="#2a2a2a" stroke-width="1.1"/>
<text x="549.84" y="215.90" font-size="12" font-weight="bold" text-anchor="middle" >60</text>
<line x1="593.82" y1="202.5" x2="593.82" y2="198.1" stroke="#2a2a2a" stroke-width="1.1"/>
<line x1="593.82" y1="7.4" x2="593.82" y2="11.8" stroke="#2a2a2a" stroke-width="1.1"/>
<text x="593.82" y="215.90" font-size="12" font-weight="bold" text-anchor="middle" >80</text>
<line x1="637.80" y1="202.5" x2="637.80" y2="198.1" stroke="#2a2a2a" stroke-width="1.1"/>
<line x1="637.80" y1="7.4" x2="637.80" y2="11.8" stroke="#2a2a2a" stroke-width="1.1"/>
<text x="637.80" y="215.90" font-size="12" font-weight="bold" text-anchor="middle" >100</text>
<line x1="396.0" y1="41.20" x2="400.4" y2="41.20" stroke="#2a2a2a" stroke-width="1.1"/>
<line x1="659.3" y1="41.20" x2="654.9" y2="41.20" stroke="#2a2a2a" stroke-width="1.1"/>
<text x="392.30" y="45.50" font-size="12" font-weight="bold" text-anchor="end">10<tspan dy="-6.8" font-size="7.2">-2</tspan></text>
<line x1="396.0" y1="81.50" x2="400.4" y2="81.50" stroke="#2a2a2a" stroke-width="1.1"/>
<line x1="659.3" y1="81.50" x2="654.9" y2="81.50" stroke="#2a2a2a" stroke-width="1.1"/>
<text x="392.30" y="85.80" font-size="12" font-weight="bold" text-anchor="end">10<tspan dy="-6.8" font-size="7.2">-3</tspan></text>
<line x1="396.0" y1="121.80" x2="400.4" y2="121.80" stroke="#2a2a2a" stroke-width="1.1"/>
<line x1="659.3" y1="121.80" x2="654.9" y2="121.80" stroke="#2a2a2a" stroke-width="1.1"/>
<text x="392.30" y="126.10" font-size="12" font-weight="bold" text-anchor="end">10<tspan dy="-6.8" font-size="7.2">-4</tspan></text>
<line x1="396.0" y1="162.10" x2="400.4" y2="162.10" stroke="#2a2a2a" stroke-width="1.1"/>
<line x1="659.3" y1="162.10" x2="654.9" y2="162.10" stroke="#2a2a2a" stroke-width="1.1"/>
<text x="392.30" y="166.40" font-size="12" font-weight="bold" text-anchor="end">10<tspan dy="-6.8" font-size="7.2">-5</tspan></text>
<line x1="396.0" y1="202.40" x2="400.4" y2="202.40" stroke="#2a2a2a" stroke-width="1.1"/>
<line x1="659.3" y1="202.40" x2="654.9" y2="202.40" stroke="#2a2a2a" stroke-width="1.1"/>
<text x="392.30" y="206.70" font-size="12" font-weight="bold" text-anchor="end">10<tspan dy="-6.8" font-size="7.2">-6</tspan></text>
<rect x="420.6" y="99.4" width="101.1" height="38.7" fill="#000"/>
<rect x="417.6" y="96.4" width="101.1" height="38.7" fill="#fff" stroke="#777" stroke-width="0.8"/>
<line x1="424.9" y1="108.7" x2="446.4" y2="108.7" stroke="#666" stroke-width="0.8"/>
<circle cx="435.50" cy="108.70" r="2.2" fill="#057b05"/>
<line x1="424.9" y1="128.2" x2="446.4" y2="128.2" stroke="#ee8888" stroke-width="0.8"/>
<circle cx="435.50" cy="128.20" r="2.2" fill="#f7820c"/>
<text x="451.00" y="112.70" font-size="15.6" font-weight="normal" text-anchor="start" >LRS_1 V</text>
<text x="451.00" y="131.50" font-size="15.6" font-weight="normal" text-anchor="start" >HRS_1 V</text>
<text x="340.60" y="14.20" font-size="18" font-weight="normal" text-anchor="start" >(b)</text>
<text x="0.00" y="0.00" font-size="15.7" font-weight="bold" text-anchor="middle" transform="translate(352.6,114.9) rotate(-90)">Current (A)</text>
<text x="527.60" y="239.60" font-size="15.2" font-weight="bold" text-anchor="middle" >Number of cycles</text>
<clipPath id="cc"><rect x="55.6" y="251.5" width="263.9" height="194.7"/></clipPath>
<g clip-path="url(#cc)">
<path d="M74.6,271.6 L100,272.2 L140,272.7 L200,272.9 L260,273.1 L302,273.3" fill="none" stroke="#057b05" stroke-width="4.8" stroke-linecap="round"/>
<path d="M74.6,415.00 L75.1,415.02 L75.6,415.04 L76.1,415.06 L76.6,415.07 L77.1,415.09 L77.6,415.11 L78.1,415.13 L78.6,415.15 L79.1,415.17 L79.6,415.18 L80.1,415.20 L80.6,415.22 L81.1,415.24 L81.6,415.25 L82.1,415.27 L82.6,415.29 L83.1,415.30 L83.6,415.32 L84.1,415.34 L84.6,415.35 L85.1,415.37 L85.6,415.39 L86.1,415.40 L86.6,415.42 L87.1,415.43 L87.6,415.45 L88.1,415.46 L88.6,415.48 L89.1,415.49 L89.6,415.51 L90.1,415.52 L90.6,415.54 L91.1,415.55 L91.6,415.57 L92.1,415.58 L92.6,415.59 L93.1,415.61 L93.6,415.62 L94.1,415.64 L94.6,415.65 L95.1,415.67 L95.6,415.69 L96.1,415.70 L96.6,415.72 L97.1,415.73 L97.6,415.75 L98.1,415.76 L98.6,415.77 L99.1,415.79 L99.6,415.80 L100.1,415.82 L100.6,415.83 L101.1,415.85 L101.6,415.87 L102.1,415.89 L102.6,415.92 L103.1,415.94 L103.6,415.97 L104.1,416.01 L104.6,416.06 L105.1,416.15 L105.6,416.25 L106.1,416.37 L106.6,416.51 L107.1,416.65 L107.6,416.80 L108.1,416.95 L108.6,417.09 L109.1,417.23 L109.6,417.37 L110.1,417.53 L110.6,417.69 L111.1,417.86 L111.6,418.03 L112.1,418.18 L112.6,418.33 L113.1,418.45 L113.6,418.55 L114.1,418.61 L114.6,418.66 L115.1,418.71 L115.6,418.74 L116.1,418.78 L116.6,418.81 L117.1,418.84 L117.6,418.87 L118.1,418.89 L118.6,418.92 L119.1,418.95 L119.6,418.98 L120.1,419.01 L120.6,419.04 L121.1,419.07 L121.6,419.10 L122.1,419.12 L122.6,419.15 L123.1,419.18 L123.6,419.21 L124.1,419.23 L124.6,419.26 L125.1,419.29 L125.6,419.31 L126.1,419.34 L126.6,419.37 L127.1,419.39 L127.6,419.42 L128.1,419.45 L128.6,419.48 L129.1,419.51 L129.6,419.54 L130.1,419.57 L130.6,419.60 L131.1,419.64 L131.6,419.67 L132.1,419.71 L132.6,419.75 L133.1,419.79 L133.6,419.84 L134.1,419.88 L134.6,419.94 L135.1,419.99 L135.6,420.05 L136.1,420.10 L136.6,420.16 L137.1,420.22 L137.6,420.28 L138.1,420.34 L138.6,420.40 L139.1,420.46 L139.6,420.52 L140.1,420.57 L140.6,420.63 L141.1,420.68 L141.6,420.73 L142.1,420.78 L142.6,420.83 L143.1,420.87 L143.6,420.91 L144.1,420.95 L144.6,420.98 L145.1,421.01 L145.6,421.03 L146.1,421.05 L146.6,421.07 L147.1,421.10 L147.6,421.11 L148.1,421.13 L148.6,421.15 L149.1,421.17 L149.6,421.18 L150.1,421.20 L150.6,421.22 L151.1,421.23 L151.6,421.24 L152.1,421.26 L152.6,421.27 L153.1,421.29 L153.6,421.30 L154.1,421.31 L154.6,421.33 L155.1,421.34 L155.6,421.35 L156.1,421.37 L156.6,421.38 L157.1,421.40 L157.6,421.41 L158.1,421.43 L158.6,421.45 L159.1,421.47 L159.6,421.48 L160.1,421.50 L160.6,421.52 L161.1,421.54 L161.6,421.56 L162.1,421.58 L162.6,421.60 L163.1,421.62 L163.6,421.64 L164.1,421.66 L164.6,421.68 L165.1,421.70 L165.6,421.72 L166.1,421.74 L166.6,421.76 L167.1,421.78 L167.6,421.80 L168.1,421.83 L168.6,421.85 L169.1,421.88 L169.6,421.90 L170.1,421.93 L170.6,421.96 L171.1,421.99 L171.6,422.02 L172.1,422.06 L172.6,422.09 L173.1,422.13 L173.6,422.17 L174.1,422.21 L174.6,422.26 L175.1,422.32 L175.6,422.39 L176.1,422.47 L176.6,422.56 L177.1,422.66 L177.6,422.77 L178.1,422.88 L178.6,422.99 L179.1,423.11 L179.6,423.23 L180.1,423.35 L180.6,423.47 L181.1,423.58 L181.6,423.70 L182.1,423.82 L182.6,423.92 L183.1,424.03 L183.6,424.13 L184.1,424.22 L184.6,424.31 L185.1,424.41 L185.6,424.51 L186.1,424.61 L186.6,424.72 L187.1,424.82 L187.6,424.93 L188.1,425.03 L188.6,425.13 L189.1,425.23 L189.6,425.32 L190.1,425.40 L190.6,425.47 L191.1,425.54 L191.6,425.60 L192.1,425.64 L192.6,425.68 L193.1,425.70 L193.6,425.70 L194.1,425.70 L194.6,425.70 L195.1,425.70 L195.6,425.69 L196.1,425.69 L196.6,425.69 L197.1,425.68 L197.6,425.68 L198.1,425.68 L198.6,425.67 L199.1,425.67 L199.6,425.66 L200.1,425.66 L200.6,425.65 L201.1,425.65 L201.6,425.64 L202.1,425.64 L202.6,425.63 L203.1,425.63 L203.6,425.62 L204.1,425.62 L204.6,425.61 L205.1,425.61 L205.6,425.61 L206.1,425.60 L206.6,425.60 L207.1,425.60 L207.6,425.60 L208.1,425.60 L208.6,425.60 L209.1,425.60 L209.6,425.60 L210.1,425.60 L210.6,425.60 L211.1,425.61 L211.6,425.61 L212.1,425.61 L212.6,425.61 L213.1,425.61 L213.6,425.62 L214.1,425.62 L214.6,425.62 L215.1,425.63 L215.6,425.63 L216.1,425.64 L216.6,425.64 L217.1,425.64 L217.6,425.65 L218.1,425.65 L218.6,425.66 L219.1,425.66 L219.6,425.67 L220.1,425.67 L220.6,425.68 L221.1,425.68 L221.6,425.69 L222.1,425.69 L222.6,425.70 L223.1,425.71 L223.6,425.71 L224.1,425.72 L224.6,425.73 L225.1,425.74 L225.6,425.76 L226.1,425.77 L226.6,425.78 L227.1,425.80 L227.6,425.81 L228.1,425.83 L228.6,425.85 L229.1,425.86 L229.6,425.88 L230.1,425.90 L230.6,425.92 L231.1,425.94 L231.6,425.96 L232.1,425.98 L232.6,426.00 L233.1,426.02 L233.6,426.04 L234.1,426.07 L234.6,426.09 L235.1,426.12 L235.6,426.15 L236.1,426.19 L236.6,426.22 L237.1,426.26 L237.6,426.30 L238.1,426.34 L238.6,426.38 L239.1,426.42 L239.6,426.46 L240.1,426.50 L240.6,426.54 L241.1,426.58 L241.6,426.63 L242.1,426.67 L242.6,426.71 L243.1,426.75 L243.6,426.79 L244.1,426.83 L244.6,426.87 L245.1,426.91 L245.6,426.94 L246.1,426.98 L246.6,427.01 L247.1,427.04 L247.6,427.07 L248.1,427.10 L248.6,427.12 L249.1,427.14 L249.6,427.16 L250.1,427.18 L250.6,427.20 L251.1,427.21 L251.6,427.22 L252.1,427.23 L252.6,427.24 L253.1,427.25 L253.6,427.26 L254.1,427.27 L254.6,427.28 L255.1,427.29 L255.6,427.30 L256.1,427.31 L256.6,427.32 L257.1,427.33 L257.6,427.34 L258.1,427.34 L258.6,427.35 L259.1,427.36 L259.6,427.36 L260.1,427.37 L260.6,427.38 L261.1,427.38 L261.6,427.39 L262.1,427.39 L262.6,427.39 L263.1,427.40 L263.6,427.40 L264.1,427.40 L264.6,427.40 L265.1,427.40 L265.6,427.40 L266.1,427.40 L266.6,427.40 L267.1,427.40 L267.6,427.40 L268.1,427.40 L268.6,427.40 L269.1,427.40 L269.6,427.40 L270.1,427.40 L270.6,427.40 L271.1,427.40 L271.6,427.40 L272.1,427.40 L272.6,427.40 L273.1,427.40 L273.6,427.40 L274.1,427.40 L274.6,427.37 L275.1,427.29 L275.6,427.18 L276.1,427.04 L276.6,426.88 L277.1,426.70 L277.6,426.50 L278.1,426.30 L278.6,426.11 L279.1,425.91 L279.6,425.73 L280.1,425.57 L280.6,425.39 L281.1,425.18 L281.6,424.97 L282.1,424.75 L282.6,424.56 L283.1,424.39 L283.6,424.27 L284.1,424.21 L284.6,424.22 L285.1,424.35 L285.6,424.55 L286.1,424.80 L286.6,425.06 L287.1,425.31 L287.6,425.50 L288.1,425.62 L288.6,425.69 L289.1,425.77 L289.6,425.83 L290.1,425.89 L290.6,425.94 L291.1,425.97 L291.6,425.99 L292.1,426.00 L292.6,426.00 L293.1,426.00 L293.6,426.00 L294.1,426.00 L294.6,426.00 L295.1,426.00 L295.6,426.00 L296.1,425.99 L296.6,425.99 L297.1,425.99 L297.6,425.99 L298.1,425.98 L298.6,425.98 L299.1,425.97 L299.6,425.97 L300.1,425.96 L300.6,425.95 L301.1,425.94 L301.6,425.93 L302.1,425.92 L302.6,425.91" fill="none" stroke="#f7820c" stroke-width="7" stroke-linecap="round" stroke-linejoin="round"/>
<circle cx="86.30" cy="408.60" r="2.6" fill="#f7820c"/>
<circle cx="86.30" cy="410.50" r="2.6" fill="#f7820c"/>
<circle cx="174.00" cy="419.50" r="2.6" fill="#f7820c"/>
<circle cx="232.70" cy="422.30" r="2.6" fill="#f7820c"/>
<circle cx="284.30" cy="422.30" r="2.6" fill="#f7820c"/>
<circle cx="286.50" cy="423.50" r="2.6" fill="#f7820c"/>
<circle cx="281.50" cy="423.50" r="2.6" fill="#f7820c"/>
<circle cx="74.60" cy="413.20" r="2.3" fill="#f7820c"/>
<circle cx="76.04" cy="415.79" r="2.3" fill="#f7820c"/>
<circle cx="77.47" cy="413.84" r="2.3" fill="#f7820c"/>
<circle cx="78.91" cy="416.29" r="2.3" fill="#f7820c"/>
<circle cx="80.35" cy="416.45" r="2.3" fill="#f7820c"/>
<circle cx="81.78" cy="412.95" r="2.3" fill="#f7820c"/>
<circle cx="83.22" cy="412.86" r="2.3" fill="#f7820c"/>
<circle cx="84.66" cy="417.39" r="2.3" fill="#f7820c"/>
<circle cx="86.09" cy="413.68" r="2.3" fill="#f7820c"/>
<circle cx="87.53" cy="413.64" r="2.3" fill="#f7820c"/>
<circle cx="88.96" cy="417.96" r="2.3" fill="#f7820c"/>
<circle cx="90.40" cy="414.93" r="2.3" fill="#f7820c"/>
<circle cx="91.84" cy="417.61" r="2.3" fill="#f7820c"/>
<circle cx="93.27" cy="415.08" r="2.3" fill="#f7820c"/>
<circle cx="94.71" cy="416.97" r="2.3" fill="#f7820c"/>
<circle cx="96.15" cy="413.63" r="2.3" fill="#f7820c"/>
<circle cx="97.58" cy="417.04" r="2.3" fill="#f7820c"/>
<circle cx="99.02" cy="417.91" r="2.3" fill="#f7820c"/>
<circle cx="100.46" cy="416.36" r="2.3" fill="#f7820c"/>
<circle cx="101.89" cy="417.61" r="2.3" fill="#f7820c"/>
<circle cx="103.33" cy="417.41" r="2.3" fill="#f7820c"/>
<circle cx="104.77" cy="413.77" r="2.3" fill="#f7820c"/>
<circle cx="106.20" cy="418.18" r="2.3" fill="#f7820c"/>
<circle cx="107.64" cy="417.87" r="2.3" fill="#f7820c"/>
<circle cx="109.08" cy="415.66" r="2.3" fill="#f7820c"/>
<circle cx="110.51" cy="415.26" r="2.3" fill="#f7820c"/>
<circle cx="111.95" cy="420.26" r="2.3" fill="#f7820c"/>
<circle cx="113.38" cy="417.93" r="2.3" fill="#f7820c"/>
<circle cx="114.82" cy="420.32" r="2.3" fill="#f7820c"/>
<circle cx="116.26" cy="420.95" r="2.3" fill="#f7820c"/>
<circle cx="117.69" cy="420.50" r="2.3" fill="#f7820c"/>
<circle cx="119.13" cy="421.23" r="2.3" fill="#f7820c"/>
<circle cx="120.57" cy="417.90" r="2.3" fill="#f7820c"/>
<circle cx="122.00" cy="421.04" r="2.3" fill="#f7820c"/>
<circle cx="123.44" cy="418.37" r="2.3" fill="#f7820c"/>
<circle cx="124.88" cy="421.59" r="2.3" fill="#f7820c"/>
<circle cx="126.31" cy="421.51" r="2.3" fill="#f7820c"/>
<circle cx="127.75" cy="417.20" r="2.3" fill="#f7820c"/>
<circle cx="129.19" cy="417.40" r="2.3" fill="#f7820c"/>
<circle cx="130.62" cy="417.74" r="2.3" fill="#f7820c"/>
<circle cx="132.06" cy="422.10" r="2.3" fill="#f7820c"/>
<circle cx="133.50" cy="418.94" r="2.3" fill="#f7820c"/>
<circle cx="134.93" cy="421.22" r="2.3" fill="#f7820c"/>
<circle cx="136.37" cy="418.57" r="2.3" fill="#f7820c"/>
<circle cx="137.81" cy="420.60" r="2.3" fill="#f7820c"/>
<circle cx="139.24" cy="419.29" r="2.3" fill="#f7820c"/>
<circle cx="140.68" cy="419.28" r="2.3" fill="#f7820c"/>
<circle cx="142.11" cy="421.81" r="2.3" fill="#f7820c"/>
<circle cx="143.55" cy="421.93" r="2.3" fill="#f7820c"/>
<circle cx="144.99" cy="423.23" r="2.3" fill="#f7820c"/>
<circle cx="146.42" cy="422.56" r="2.3" fill="#f7820c"/>
<circle cx="147.86" cy="423.42" r="2.3" fill="#f7820c"/>
<circle cx="149.30" cy="423.27" r="2.3" fill="#f7820c"/>
<circle cx="150.73" cy="423.68" r="2.3" fill="#f7820c"/>
<circle cx="152.17" cy="422.71" r="2.3" fill="#f7820c"/>
<circle cx="153.61" cy="419.26" r="2.3" fill="#f7820c"/>
<circle cx="155.04" cy="423.44" r="2.3" fill="#f7820c"/>
<circle cx="156.48" cy="423.77" r="2.3" fill="#f7820c"/>
<circle cx="157.92" cy="423.66" r="2.3" fill="#f7820c"/>
<circle cx="159.35" cy="422.40" r="2.3" fill="#f7820c"/>
<circle cx="160.79" cy="423.15" r="2.3" fill="#f7820c"/>
<circle cx="162.23" cy="419.70" r="2.3" fill="#f7820c"/>
<circle cx="163.66" cy="423.66" r="2.3" fill="#f7820c"/>
<circle cx="165.10" cy="422.65" r="2.3" fill="#f7820c"/>
<circle cx="166.53" cy="420.13" r="2.3" fill="#f7820c"/>
<circle cx="167.97" cy="419.50" r="2.3" fill="#f7820c"/>
<circle cx="169.41" cy="423.98" r="2.3" fill="#f7820c"/>
<circle cx="170.84" cy="424.43" r="2.3" fill="#f7820c"/>
<circle cx="172.28" cy="419.82" r="2.3" fill="#f7820c"/>
<circle cx="173.72" cy="424.10" r="2.3" fill="#f7820c"/>
<circle cx="175.15" cy="421.28" r="2.3" fill="#f7820c"/>
<circle cx="176.59" cy="420.49" r="2.3" fill="#f7820c"/>
<circle cx="178.03" cy="421.27" r="2.3" fill="#f7820c"/>
<circle cx="179.46" cy="425.01" r="2.3" fill="#f7820c"/>
<circle cx="180.90" cy="425.68" r="2.3" fill="#f7820c"/>
<circle cx="182.34" cy="421.50" r="2.3" fill="#f7820c"/>
<circle cx="183.77" cy="425.35" r="2.3" fill="#f7820c"/>
<circle cx="185.21" cy="422.06" r="2.3" fill="#f7820c"/>
<circle cx="186.65" cy="426.37" r="2.3" fill="#f7820c"/>
<circle cx="188.08" cy="423.58" r="2.3" fill="#f7820c"/>
<circle cx="189.52" cy="427.47" r="2.3" fill="#f7820c"/>
<circle cx="190.95" cy="427.95" r="2.3" fill="#f7820c"/>
<circle cx="192.39" cy="425.92" r="2.3" fill="#f7820c"/>
<circle cx="193.83" cy="428.18" r="2.3" fill="#f7820c"/>
<circle cx="195.26" cy="424.17" r="2.3" fill="#f7820c"/>
<circle cx="196.70" cy="423.41" r="2.3" fill="#f7820c"/>
<circle cx="198.14" cy="426.78" r="2.3" fill="#f7820c"/>
<circle cx="199.57" cy="423.26" r="2.3" fill="#f7820c"/>
<circle cx="201.01" cy="423.72" r="2.3" fill="#f7820c"/>
<circle cx="202.45" cy="424.57" r="2.3" fill="#f7820c"/>
<circle cx="203.88" cy="426.79" r="2.3" fill="#f7820c"/>
<circle cx="205.32" cy="423.55" r="2.3" fill="#f7820c"/>
<circle cx="206.76" cy="423.23" r="2.3" fill="#f7820c"/>
<circle cx="208.19" cy="427.73" r="2.3" fill="#f7820c"/>
<circle cx="209.63" cy="424.09" r="2.3" fill="#f7820c"/>
<circle cx="211.07" cy="427.98" r="2.3" fill="#f7820c"/>
<circle cx="212.50" cy="427.82" r="2.3" fill="#f7820c"/>
<circle cx="213.94" cy="424.39" r="2.3" fill="#f7820c"/>
<circle cx="215.37" cy="424.93" r="2.3" fill="#f7820c"/>
<circle cx="216.81" cy="426.14" r="2.3" fill="#f7820c"/>
<circle cx="218.25" cy="426.98" r="2.3" fill="#f7820c"/>
<circle cx="219.68" cy="426.75" r="2.3" fill="#f7820c"/>
<circle cx="221.12" cy="426.54" r="2.3" fill="#f7820c"/>
<circle cx="222.56" cy="426.92" r="2.3" fill="#f7820c"/>
<circle cx="223.99" cy="428.05" r="2.3" fill="#f7820c"/>
<circle cx="225.43" cy="426.05" r="2.3" fill="#f7820c"/>
<circle cx="226.87" cy="424.87" r="2.3" fill="#f7820c"/>
<circle cx="228.30" cy="427.48" r="2.3" fill="#f7820c"/>
<circle cx="229.74" cy="424.09" r="2.3" fill="#f7820c"/>
<circle cx="231.18" cy="424.38" r="2.3" fill="#f7820c"/>
<circle cx="232.61" cy="428.42" r="2.3" fill="#f7820c"/>
<circle cx="234.05" cy="426.57" r="2.3" fill="#f7820c"/>
<circle cx="235.49" cy="426.92" r="2.3" fill="#f7820c"/>
<circle cx="236.92" cy="423.80" r="2.3" fill="#f7820c"/>
<circle cx="238.36" cy="425.34" r="2.3" fill="#f7820c"/>
<circle cx="239.79" cy="427.47" r="2.3" fill="#f7820c"/>
<circle cx="241.23" cy="424.17" r="2.3" fill="#f7820c"/>
<circle cx="242.67" cy="427.91" r="2.3" fill="#f7820c"/>
<circle cx="244.10" cy="428.11" r="2.3" fill="#f7820c"/>
<circle cx="245.54" cy="424.61" r="2.3" fill="#f7820c"/>
<circle cx="246.98" cy="428.28" r="2.3" fill="#f7820c"/>
<circle cx="248.41" cy="426.47" r="2.3" fill="#f7820c"/>
<circle cx="249.85" cy="428.66" r="2.3" fill="#f7820c"/>
<circle cx="251.29" cy="425.86" r="2.3" fill="#f7820c"/>
<circle cx="252.72" cy="428.84" r="2.3" fill="#f7820c"/>
<circle cx="254.16" cy="428.98" r="2.3" fill="#f7820c"/>
<circle cx="255.60" cy="424.88" r="2.3" fill="#f7820c"/>
<circle cx="257.03" cy="425.00" r="2.3" fill="#f7820c"/>
<circle cx="258.47" cy="428.82" r="2.3" fill="#f7820c"/>
<circle cx="259.91" cy="429.76" r="2.3" fill="#f7820c"/>
<circle cx="261.34" cy="425.63" r="2.3" fill="#f7820c"/>
<circle cx="262.78" cy="426.66" r="2.3" fill="#f7820c"/>
<circle cx="264.22" cy="428.47" r="2.3" fill="#f7820c"/>
<circle cx="265.65" cy="425.91" r="2.3" fill="#f7820c"/>
<circle cx="267.09" cy="426.11" r="2.3" fill="#f7820c"/>
<circle cx="268.52" cy="425.88" r="2.3" fill="#f7820c"/>
<circle cx="269.96" cy="426.13" r="2.3" fill="#f7820c"/>
<circle cx="271.40" cy="428.48" r="2.3" fill="#f7820c"/>
<circle cx="272.83" cy="425.83" r="2.3" fill="#f7820c"/>
<circle cx="274.27" cy="426.16" r="2.3" fill="#f7820c"/>
<circle cx="275.71" cy="428.98" r="2.3" fill="#f7820c"/>
<circle cx="277.14" cy="424.27" r="2.3" fill="#f7820c"/>
<circle cx="278.58" cy="427.04" r="2.3" fill="#f7820c"/>
<circle cx="280.02" cy="427.30" r="2.3" fill="#f7820c"/>
<circle cx="281.45" cy="423.50" r="2.3" fill="#f7820c"/>
<circle cx="282.89" cy="422.61" r="2.3" fill="#f7820c"/>
<circle cx="284.33" cy="426.13" r="2.3" fill="#f7820c"/>
<circle cx="285.76" cy="422.83" r="2.3" fill="#f7820c"/>
<circle cx="287.20" cy="423.39" r="2.3" fill="#f7820c"/>
<circle cx="288.64" cy="424.81" r="2.3" fill="#f7820c"/>
<circle cx="290.07" cy="427.45" r="2.3" fill="#f7820c"/>
<circle cx="291.51" cy="423.78" r="2.3" fill="#f7820c"/>
<circle cx="292.94" cy="424.52" r="2.3" fill="#f7820c"/>
<circle cx="294.38" cy="424.57" r="2.3" fill="#f7820c"/>
<circle cx="295.82" cy="428.02" r="2.3" fill="#f7820c"/>
<circle cx="297.25" cy="425.12" r="2.3" fill="#f7820c"/>
<circle cx="298.69" cy="428.07" r="2.3" fill="#f7820c"/>
<circle cx="300.13" cy="423.94" r="2.3" fill="#f7820c"/>
<circle cx="301.56" cy="424.52" r="2.3" fill="#f7820c"/>
<circle cx="303.00" cy="427.26" r="2.3" fill="#f7820c"/>
</g>
<rect x="55.6" y="251.5" width="263.9" height="194.7" fill="none" stroke="#2a2a2a" stroke-width="1.3"/>
<line x1="74.60" y1="446.2" x2="74.60" y2="441.8" stroke="#2a2a2a" stroke-width="1.1"/>
<line x1="74.60" y1="251.5" x2="74.60" y2="255.9" stroke="#2a2a2a" stroke-width="1.1"/>
<text x="74.60" y="459.60" font-size="12" font-weight="bold" text-anchor="middle" >0</text>
<line x1="112.20" y1="446.2" x2="112.20" y2="441.8" stroke="#2a2a2a" stroke-width="1.1"/>
<line x1="112.20" y1="251.5" x2="112.20" y2="255.9" stroke="#2a2a2a" stroke-width="1.1"/>
<text x="112.20" y="459.60" font-size="12" font-weight="bold" text-anchor="middle" >2000</text>
<line x1="149.80" y1="446.2" x2="149.80" y2="441.8" stroke="#2a2a2a" stroke-width="1.1"/>
<line x1="149.80" y1="251.5" x2="149.80" y2="255.9" stroke="#2a2a2a" stroke-width="1.1"/>
<text x="149.80" y="459.60" font-size="12" font-weight="bold" text-anchor="middle" >4000</text>
<line x1="187.40" y1="446.2" x2="187.40" y2="441.8" stroke="#2a2a2a" stroke-width="1.1"/>
<line x1="187.40" y1="251.5" x2="187.40" y2="255.9" stroke="#2a2a2a" stroke-width="1.1"/>
<text x="187.40" y="459.60" font-size="12" font-weight="bold" text-anchor="middle" >6000</text>
<line x1="225.00" y1="446.2" x2="225.00" y2="441.8" stroke="#2a2a2a" stroke-width="1.1"/>
<line x1="225.00" y1="251.5" x2="225.00" y2="255.9" stroke="#2a2a2a" stroke-width="1.1"/>
<text x="225.00" y="459.60" font-size="12" font-weight="bold" text-anchor="middle" >8000</text>
<line x1="262.60" y1="446.2" x2="262.60" y2="441.8" stroke="#2a2a2a" stroke-width="1.1"/>
<line x1="262.60" y1="251.5" x2="262.60" y2="255.9" stroke="#2a2a2a" stroke-width="1.1"/>
<text x="262.60" y="459.60" font-size="12" font-weight="bold" text-anchor="middle" >10000</text>
<line x1="300.20" y1="446.2" x2="300.20" y2="441.8" stroke="#2a2a2a" stroke-width="1.1"/>
<line x1="300.20" y1="251.5" x2="300.20" y2="255.9" stroke="#2a2a2a" stroke-width="1.1"/>
<text x="300.20" y="459.60" font-size="12" font-weight="bold" text-anchor="middle" >12000</text>
<line x1="55.6" y1="285.40" x2="60.0" y2="285.40" stroke="#2a2a2a" stroke-width="1.1"/>
<line x1="319.5" y1="285.40" x2="315.1" y2="285.40" stroke="#2a2a2a" stroke-width="1.1"/>
<text x="52.30" y="289.70" font-size="12" font-weight="bold" text-anchor="end">10<tspan dy="-6.8" font-size="7.2">-2</tspan></text>
<line x1="55.6" y1="325.60" x2="60.0" y2="325.60" stroke="#2a2a2a" stroke-width="1.1"/>
<line x1="319.5" y1="325.60" x2="315.1" y2="325.60" stroke="#2a2a2a" stroke-width="1.1"/>
<text x="52.30" y="329.90" font-size="12" font-weight="bold" text-anchor="end">10<tspan dy="-6.8" font-size="7.2">-3</tspan></text>
<line x1="55.6" y1="365.80" x2="60.0" y2="365.80" stroke="#2a2a2a" stroke-width="1.1"/>
<line x1="319.5" y1="365.80" x2="315.1" y2="365.80" stroke="#2a2a2a" stroke-width="1.1"/>
<text x="52.30" y="370.10" font-size="12" font-weight="bold" text-anchor="end">10<tspan dy="-6.8" font-size="7.2">-4</tspan></text>
<line x1="55.6" y1="406.00" x2="60.0" y2="406.00" stroke="#2a2a2a" stroke-width="1.1"/>
<line x1="319.5" y1="406.00" x2="315.1" y2="406.00" stroke="#2a2a2a" stroke-width="1.1"/>
<text x="52.30" y="410.30" font-size="12" font-weight="bold" text-anchor="end">10<tspan dy="-6.8" font-size="7.2">-5</tspan></text>
<line x1="55.6" y1="446.20" x2="60.0" y2="446.20" stroke="#2a2a2a" stroke-width="1.1"/>
<line x1="319.5" y1="446.20" x2="315.1" y2="446.20" stroke="#2a2a2a" stroke-width="1.1"/>
<text x="52.30" y="450.50" font-size="12" font-weight="bold" text-anchor="end">10<tspan dy="-6.8" font-size="7.2">-6</tspan></text>
<rect x="74.4" y="340.5" width="106.4" height="37.8" fill="#000"/>
<rect x="71.4" y="337.5" width="106.4" height="37.8" fill="#fff" stroke="#777" stroke-width="0.8"/>
<line x1="82" y1="350.1" x2="103.7" y2="350.1" stroke="#8fe08f" stroke-width="0.8"/>
<circle cx="93.10" cy="350.10" r="2.1" fill="#057b05"/>
<line x1="82" y1="369" x2="103.7" y2="369" stroke="#ee8888" stroke-width="0.8"/>
<circle cx="93.10" cy="369.00" r="2.1" fill="#f7820c"/>
<text x="107.80" y="353.60" font-size="15.6" font-weight="normal" text-anchor="start" >LRS_1 V</text>
<text x="107.80" y="372.30" font-size="15.6" font-weight="normal" text-anchor="start" >HRS_1 V</text>
<text x="-1.00" y="262.60" font-size="18" font-weight="normal" text-anchor="start" >(c)</text>
<text x="0.00" y="0.00" font-size="15.7" font-weight="bold" text-anchor="middle" transform="translate(16.7,358.7) rotate(-90)">Current (A)</text>
<text x="188.30" y="482.70" font-size="15.2" font-weight="bold" text-anchor="middle" >Time (s)</text>
<clipPath id="cd"><rect x="395.5" y="249.6" width="263.0" height="194.6"/></clipPath>
<g clip-path="url(#cd)">
<rect x="394.15" y="438.46" width="2.9" height="5.64" fill="#097609"/>
<rect x="399.15" y="415.90" width="2.9" height="28.20" fill="#097609"/>
<rect x="405.25" y="421.54" width="2.9" height="22.56" fill="#097609"/>
<rect x="411.35" y="410.26" width="2.9" height="33.84" fill="#097609"/>
<rect x="417.45" y="427.18" width="2.9" height="16.92" fill="#097609"/>
<rect x="423.55" y="376.42" width="2.9" height="67.68" fill="#097609"/>
<rect x="429.65" y="342.58" width="2.9" height="101.52" fill="#097609"/>
<rect x="435.75" y="263.62" width="2.9" height="180.48" fill="#097609"/>
<rect x="441.85" y="353.86" width="2.9" height="90.24" fill="#097609"/>
<rect x="447.95" y="427.18" width="2.9" height="16.92" fill="#097609"/>
<rect x="577.35" y="415.90" width="2.9" height="28.20" fill="#f7820c"/>
<rect x="583.41" y="421.54" width="2.9" height="22.56" fill="#f7820c"/>
<rect x="589.47" y="432.82" width="2.9" height="11.28" fill="#f7820c"/>
<rect x="595.53" y="427.18" width="2.9" height="16.92" fill="#f7820c"/>
<rect x="601.59" y="421.54" width="2.9" height="22.56" fill="#f7820c"/>
<rect x="607.65" y="387.70" width="2.9" height="56.40" fill="#f7820c"/>
<rect x="613.71" y="320.02" width="2.9" height="124.08" fill="#f7820c"/>
<rect x="619.77" y="359.50" width="2.9" height="84.60" fill="#f7820c"/>
<rect x="625.83" y="415.90" width="2.9" height="28.20" fill="#f7820c"/>
<rect x="631.89" y="359.50" width="2.9" height="84.60" fill="#f7820c"/>
<rect x="637.95" y="404.62" width="2.9" height="39.48" fill="#f7820c"/>
<rect x="644.01" y="432.82" width="2.9" height="11.28" fill="#f7820c"/>
<rect x="650.07" y="432.82" width="2.9" height="11.28" fill="#f7820c"/>
<rect x="656.13" y="421.54" width="2.9" height="22.56" fill="#f7820c"/>
</g>
<rect x="395.5" y="249.6" width="263.0" height="194.6" fill="none" stroke="#2a2a2a" stroke-width="1.3"/>
<line x1="395.80" y1="444.2" x2="395.80" y2="439.8" stroke="#2a2a2a" stroke-width="1.1"/>
<line x1="395.80" y1="249.6" x2="395.80" y2="254.0" stroke="#2a2a2a" stroke-width="1.1"/>
<text x="396.30" y="458.20" font-size="12" font-weight="bold" text-anchor="middle" >-1.0</text>
<line x1="426.10" y1="444.2" x2="426.10" y2="439.8" stroke="#2a2a2a" stroke-width="1.1"/>
<line x1="426.10" y1="249.6" x2="426.10" y2="254.0" stroke="#2a2a2a" stroke-width="1.1"/>
<text x="426.60" y="458.20" font-size="12" font-weight="bold" text-anchor="middle" >-0.5</text>
<line x1="456.40" y1="444.2" x2="456.40" y2="439.8" stroke="#2a2a2a" stroke-width="1.1"/>
<line x1="456.40" y1="249.6" x2="456.40" y2="254.0" stroke="#2a2a2a" stroke-width="1.1"/>
<text x="456.40" y="458.20" font-size="12" font-weight="bold" text-anchor="middle" >0.0</text>
<line x1="486.70" y1="444.2" x2="486.70" y2="439.8" stroke="#2a2a2a" stroke-width="1.1"/>
<line x1="486.70" y1="249.6" x2="486.70" y2="254.0" stroke="#2a2a2a" stroke-width="1.1"/>
<text x="486.70" y="458.20" font-size="12" font-weight="bold" text-anchor="middle" >0.5</text>
<line x1="517.00" y1="444.2" x2="517.00" y2="439.8" stroke="#2a2a2a" stroke-width="1.1"/>
<line x1="517.00" y1="249.6" x2="517.00" y2="254.0" stroke="#2a2a2a" stroke-width="1.1"/>
<text x="517.00" y="458.20" font-size="12" font-weight="bold" text-anchor="middle" >1.0</text>
<line x1="547.30" y1="444.2" x2="547.30" y2="439.8" stroke="#2a2a2a" stroke-width="1.1"/>
<line x1="547.30" y1="249.6" x2="547.30" y2="254.0" stroke="#2a2a2a" stroke-width="1.1"/>
<text x="547.30" y="458.20" font-size="12" font-weight="bold" text-anchor="middle" >1.5</text>
<line x1="577.60" y1="444.2" x2="577.60" y2="439.8" stroke="#2a2a2a" stroke-width="1.1"/>
<line x1="577.60" y1="249.6" x2="577.60" y2="254.0" stroke="#2a2a2a" stroke-width="1.1"/>
<text x="577.60" y="458.20" font-size="12" font-weight="bold" text-anchor="middle" >2.0</text>
<line x1="607.90" y1="444.2" x2="607.90" y2="439.8" stroke="#2a2a2a" stroke-width="1.1"/>
<line x1="607.90" y1="249.6" x2="607.90" y2="254.0" stroke="#2a2a2a" stroke-width="1.1"/>
<text x="607.90" y="458.20" font-size="12" font-weight="bold" text-anchor="middle" >2.5</text>
<line x1="638.20" y1="444.2" x2="638.20" y2="439.8" stroke="#2a2a2a" stroke-width="1.1"/>
<line x1="638.20" y1="249.6" x2="638.20" y2="254.0" stroke="#2a2a2a" stroke-width="1.1"/>
<text x="638.20" y="458.20" font-size="12" font-weight="bold" text-anchor="middle" >3.0</text>
<line x1="395.5" y1="444.10" x2="399.9" y2="444.10" stroke="#2a2a2a" stroke-width="1.1"/>
<line x1="658.5" y1="444.10" x2="654.1" y2="444.10" stroke="#2a2a2a" stroke-width="1.1"/>
<text x="391.30" y="448.40" font-size="12" font-weight="bold" text-anchor="end" >0</text>
<line x1="395.5" y1="415.90" x2="399.9" y2="415.90" stroke="#2a2a2a" stroke-width="1.1"/>
<line x1="658.5" y1="415.90" x2="654.1" y2="415.90" stroke="#2a2a2a" stroke-width="1.1"/>
<text x="391.30" y="420.20" font-size="12" font-weight="bold" text-anchor="end" >5</text>
<line x1="395.5" y1="387.70" x2="399.9" y2="387.70" stroke="#2a2a2a" stroke-width="1.1"/>
<line x1="658.5" y1="387.70" x2="654.1" y2="387.70" stroke="#2a2a2a" stroke-width="1.1"/>
<text x="391.30" y="392.00" font-size="12" font-weight="bold" text-anchor="end" >10</text>
<line x1="395.5" y1="359.50" x2="399.9" y2="359.50" stroke="#2a2a2a" stroke-width="1.1"/>
<line x1="658.5" y1="359.50" x2="654.1" y2="359.50" stroke="#2a2a2a" stroke-width="1.1"/>
<text x="391.30" y="363.80" font-size="12" font-weight="bold" text-anchor="end" >15</text>
<line x1="395.5" y1="331.30" x2="399.9" y2="331.30" stroke="#2a2a2a" stroke-width="1.1"/>
<line x1="658.5" y1="331.30" x2="654.1" y2="331.30" stroke="#2a2a2a" stroke-width="1.1"/>
<text x="391.30" y="335.60" font-size="12" font-weight="bold" text-anchor="end" >20</text>
<line x1="395.5" y1="303.10" x2="399.9" y2="303.10" stroke="#2a2a2a" stroke-width="1.1"/>
<line x1="658.5" y1="303.10" x2="654.1" y2="303.10" stroke="#2a2a2a" stroke-width="1.1"/>
<text x="391.30" y="307.40" font-size="12" font-weight="bold" text-anchor="end" >25</text>
<line x1="395.5" y1="274.90" x2="399.9" y2="274.90" stroke="#2a2a2a" stroke-width="1.1"/>
<line x1="658.5" y1="274.90" x2="654.1" y2="274.90" stroke="#2a2a2a" stroke-width="1.1"/>
<text x="391.30" y="279.20" font-size="12" font-weight="bold" text-anchor="end" >30</text>
<rect x="512.4" y="265.1" width="128.5" height="38.1" fill="#000"/>
<rect x="509.4" y="262.1" width="129.2" height="38.1" fill="#fff" stroke="#777" stroke-width="0.8"/>
<rect x="512.1" y="268.9" width="21.5" height="10.1" fill="#097609"/>
<rect x="512.1" y="288" width="21.5" height="9.9" fill="#f7820c"/>
<text x="538.60" y="277.00" font-size="15.6" font-weight="normal" text-anchor="start" >Set voltage</text>
<text x="538.60" y="296.20" font-size="15.6" font-weight="normal" text-anchor="start" >Reset voltage</text>
<text x="338.00" y="262.60" font-size="18" font-weight="normal" text-anchor="start" >(d)</text>
<text x="0.00" y="0.00" font-size="15.6" font-weight="bold" text-anchor="middle" transform="translate(357.9,356.5) rotate(-90)">Probability (%)</text>
<text x="527.50" y="481.50" font-size="15.2" font-weight="bold" text-anchor="middle" >Threshold voltage (V)</text>
</svg>
</body></html>
